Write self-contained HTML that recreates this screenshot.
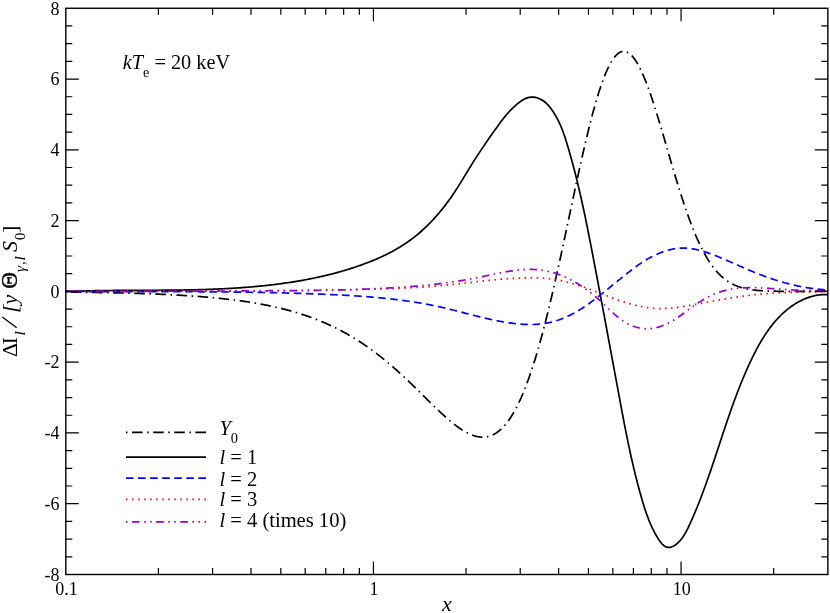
<!DOCTYPE html><html><head><meta charset="utf-8"><title>plot</title><style>

html,body{margin:0;padding:0;background:#fff;}
body{width:830px;height:613px;position:relative;overflow:hidden;font-family:"Liberation Serif",serif;color:#000;font-kerning:none;}
svg text{font-family:"Liberation Serif",serif;fill:#000;font-kerning:none;}
.i{font-style:italic;}

</style></head><body>
<svg width="830" height="613" viewBox="0 0 830 613" style="position:absolute;left:0;top:0">
<rect x="0" y="0" width="830" height="613" fill="#fff"/>
<clipPath id="cp"><rect x="65.8" y="8.25" width="762.0500000000001" height="566.25"/></clipPath>
<g clip-path="url(#cp)" fill="none" stroke-linejoin="round">
<path d="M65.80,292.08 L66.75,292.09 L67.71,292.10 L68.66,292.11 L69.61,292.12 L70.56,292.13 L71.52,292.14 L72.47,292.16 L73.42,292.17 L74.37,292.18 L75.33,292.19 L76.28,292.20 L77.23,292.21 L78.18,292.23 L79.14,292.24 L80.09,292.25 L81.04,292.26 L81.99,292.28 L82.95,292.29 L83.90,292.30 L84.85,292.31 L85.80,292.33 L86.76,292.34 L87.71,292.36 L88.66,292.37 L89.61,292.38 L90.57,292.40 L91.52,292.41 L92.47,292.43 L93.42,292.44 L94.38,292.46 L95.33,292.47 L96.28,292.49 L97.23,292.51 L98.19,292.52 L99.14,292.54 L100.09,292.55 L101.04,292.57 L102.00,292.59 L102.95,292.61 L103.90,292.62 L104.86,292.64 L105.81,292.66 L106.76,292.68 L107.71,292.70 L108.67,292.72 L109.62,292.73 L110.57,292.75 L111.52,292.77 L112.48,292.79 L113.43,292.81 L114.38,292.83 L115.33,292.86 L116.29,292.88 L117.24,292.90 L118.19,292.92 L119.14,292.94 L120.10,292.96 L121.05,292.99 L122.00,293.01 L122.95,293.03 L123.91,293.06 L124.86,293.08 L125.81,293.11 L126.76,293.13 L127.72,293.16 L128.67,293.18 L129.62,293.21 L130.57,293.23 L131.53,293.26 L132.48,293.29 L133.43,293.31 L134.38,293.34 L135.34,293.37 L136.29,293.40 L137.24,293.43 L138.19,293.46 L139.15,293.49 L140.10,293.52 L141.05,293.55 L142.01,293.58 L142.96,293.61 L143.91,293.64 L144.86,293.67 L145.82,293.71 L146.77,293.74 L147.72,293.77 L148.67,293.81 L149.63,293.84 L150.58,293.88 L151.53,293.91 L152.48,293.95 L153.44,293.99 L154.39,294.02 L155.34,294.06 L156.29,294.10 L157.25,294.14 L158.20,294.18 L159.15,294.22 L160.10,294.26 L161.06,294.30 L162.01,294.34 L162.96,294.38 L163.91,294.43 L164.87,294.47 L165.82,294.51 L166.77,294.56 L167.72,294.61 L168.68,294.65 L169.63,294.70 L170.58,294.75 L171.53,294.79 L172.49,294.84 L173.44,294.89 L174.39,294.94 L175.34,294.99 L176.30,295.04 L177.25,295.10 L178.20,295.15 L179.15,295.20 L180.11,295.26 L181.06,295.31 L182.01,295.37 L182.97,295.42 L183.92,295.48 L184.87,295.54 L185.82,295.60 L186.78,295.66 L187.73,295.72 L188.68,295.78 L189.63,295.85 L190.59,295.91 L191.54,295.97 L192.49,296.04 L193.44,296.10 L194.40,296.17 L195.35,296.24 L196.30,296.31 L197.25,296.38 L198.21,296.45 L199.16,296.52 L200.11,296.60 L201.06,296.67 L202.02,296.74 L202.97,296.82 L203.92,296.90 L204.87,296.98 L205.83,297.06 L206.78,297.14 L207.73,297.22 L208.68,297.30 L209.64,297.38 L210.59,297.47 L211.54,297.56 L212.49,297.64 L213.45,297.73 L214.40,297.82 L215.35,297.91 L216.30,298.00 L217.26,298.10 L218.21,298.19 L219.16,298.29 L220.12,298.39 L221.07,298.49 L222.02,298.59 L222.97,298.69 L223.93,298.79 L224.88,298.90 L225.83,299.00 L226.78,299.11 L227.74,299.22 L228.69,299.33 L229.64,299.44 L230.59,299.55 L231.55,299.67 L232.50,299.79 L233.45,299.90 L234.40,300.02 L235.36,300.15 L236.31,300.27 L237.26,300.39 L238.21,300.52 L239.17,300.65 L240.12,300.78 L241.07,300.91 L242.02,301.05 L242.98,301.18 L243.93,301.32 L244.88,301.46 L245.83,301.60 L246.79,301.74 L247.74,301.89 L248.69,302.03 L249.64,302.18 L250.60,302.33 L251.55,302.49 L252.50,302.64 L253.45,302.80 L254.41,302.96 L255.36,303.12 L256.31,303.29 L257.27,303.45 L258.22,303.62 L259.17,303.79 L260.12,303.96 L261.08,304.14 L262.03,304.32 L262.98,304.50 L263.93,304.68 L264.89,304.86 L265.84,305.05 L266.79,305.24 L267.74,305.43 L268.70,305.63 L269.65,305.82 L270.60,306.02 L271.55,306.23 L272.51,306.43 L273.46,306.64 L274.41,306.85 L275.36,307.07 L276.32,307.28 L277.27,307.50 L278.22,307.72 L279.17,307.95 L280.13,308.18 L281.08,308.41 L282.03,308.64 L282.98,308.88 L283.94,309.12 L284.89,309.36 L285.84,309.61 L286.79,309.86 L287.75,310.11 L288.70,310.37 L289.65,310.63 L290.60,310.89 L291.56,311.16 L292.51,311.43 L293.46,311.70 L294.42,311.98 L295.37,312.26 L296.32,312.54 L297.27,312.83 L298.23,313.12 L299.18,313.42 L300.13,313.72 L301.08,314.02 L302.04,314.33 L302.99,314.64 L303.94,314.95 L304.89,315.27 L305.85,315.59 L306.80,315.92 L307.75,316.25 L308.70,316.58 L309.66,316.92 L310.61,317.26 L311.56,317.61 L312.51,317.96 L313.47,318.32 L314.42,318.68 L315.37,319.04 L316.32,319.41 L317.28,319.79 L318.23,320.16 L319.18,320.55 L320.13,320.93 L321.09,321.33 L322.04,321.72 L322.99,322.12 L323.94,322.53 L324.90,322.94 L325.85,323.36 L326.80,323.78 L327.75,324.20 L328.71,324.63 L329.66,325.07 L330.61,325.51 L331.56,325.96 L332.52,326.41 L333.47,326.87 L334.42,327.33 L335.38,327.79 L336.33,328.27 L337.28,328.74 L338.23,329.23 L339.19,329.72 L340.14,330.21 L341.09,330.71 L342.04,331.22 L343.00,331.73 L343.95,332.24 L344.90,332.77 L345.85,333.30 L346.81,333.83 L347.76,334.37 L348.71,334.91 L349.66,335.47 L350.62,336.02 L351.57,336.59 L352.52,337.16 L353.47,337.73 L354.43,338.31 L355.38,338.90 L356.33,339.49 L357.28,340.09 L358.24,340.70 L359.19,341.31 L360.14,341.93 L361.09,342.55 L362.05,343.18 L363.00,343.82 L363.95,344.46 L364.90,345.11 L365.86,345.76 L366.81,346.43 L367.76,347.09 L368.71,347.77 L369.67,348.45 L370.62,349.13 L371.57,349.83 L372.53,350.53 L373.48,351.23 L374.43,351.94 L375.38,352.66 L376.34,353.38 L377.29,354.11 L378.24,354.85 L379.19,355.59 L380.15,356.34 L381.10,357.10 L382.05,357.86 L383.00,358.63 L383.96,359.40 L384.91,360.18 L385.86,360.97 L386.81,361.76 L387.77,362.55 L388.72,363.36 L389.67,364.17 L390.62,364.98 L391.58,365.80 L392.53,366.63 L393.48,367.46 L394.43,368.30 L395.39,369.14 L396.34,369.99 L397.29,370.84 L398.24,371.70 L399.20,372.56 L400.15,373.43 L401.10,374.30 L402.05,375.18 L403.01,376.06 L403.96,376.95 L404.91,377.84 L405.86,378.73 L406.82,379.63 L407.77,380.53 L408.72,381.44 L409.68,382.35 L410.63,383.26 L411.58,384.18 L412.53,385.10 L413.49,386.02 L414.44,386.95 L415.39,387.88 L416.34,388.81 L417.30,389.74 L418.25,390.67 L419.20,391.61 L420.15,392.55 L421.11,393.49 L422.06,394.42 L423.01,395.36 L423.96,396.30 L424.92,397.24 L425.87,398.18 L426.82,399.12 L427.77,400.06 L428.73,401.00 L429.68,401.93 L430.63,402.87 L431.58,403.80 L432.54,404.73 L433.49,405.66 L434.44,406.58 L435.39,407.50 L436.35,408.41 L437.30,409.32 L438.25,410.23 L439.20,411.13 L440.16,412.03 L441.11,412.91 L442.06,413.80 L443.01,414.67 L443.97,415.54 L444.92,416.40 L445.87,417.25 L446.83,418.09 L447.78,418.92 L448.73,419.74 L449.68,420.55 L450.64,421.35 L451.59,422.14 L452.54,422.92 L453.49,423.68 L454.45,424.43 L455.40,425.16 L456.35,425.88 L457.30,426.58 L458.26,427.27 L459.21,427.94 L460.16,428.60 L461.11,429.23 L462.07,429.85 L463.02,430.45 L463.97,431.02 L464.92,431.58 L465.88,432.11 L466.83,432.62 L467.78,433.11 L468.73,433.57 L469.69,434.01 L470.64,434.43 L471.59,434.81 L472.54,435.17 L473.50,435.51 L474.45,435.81 L475.40,436.08 L476.35,436.33 L477.31,436.54 L478.26,436.72 L479.21,436.86 L480.16,436.98 L481.12,437.05 L482.07,437.10 L483.02,437.10 L483.97,437.07 L484.93,437.00 L485.88,436.89 L486.83,436.74 L487.79,436.55 L488.74,436.32 L489.69,436.04 L490.64,435.73 L491.60,435.36 L492.55,434.96 L493.50,434.50 L494.45,434.00 L495.41,433.45 L496.36,432.86 L497.31,432.21 L498.26,431.51 L499.22,430.76 L500.17,429.96 L501.12,429.11 L502.07,428.20 L503.03,427.24 L503.98,426.22 L504.93,425.15 L505.88,424.02 L506.84,422.83 L507.79,421.59 L508.74,420.28 L509.69,418.92 L510.65,417.50 L511.60,416.01 L512.55,414.47 L513.50,412.86 L514.46,411.19 L515.41,409.46 L516.36,407.66 L517.31,405.81 L518.27,403.88 L519.22,401.90 L520.17,399.84 L521.12,397.73 L522.08,395.55 L523.03,393.30 L523.98,390.99 L524.94,388.61 L525.89,386.17 L526.84,383.66 L527.79,381.08 L528.75,378.44 L529.70,375.74 L530.65,372.96 L531.60,370.13 L532.56,367.23 L533.51,364.26 L534.46,361.24 L535.41,358.14 L536.37,354.99 L537.32,351.77 L538.27,348.50 L539.22,345.16 L540.18,341.76 L541.13,338.30 L542.08,334.79 L543.03,331.21 L543.99,327.59 L544.94,323.90 L545.89,320.17 L546.84,316.38 L547.80,312.54 L548.75,308.65 L549.70,304.71 L550.65,300.72 L551.61,296.69 L552.56,292.62 L553.51,288.50 L554.46,284.35 L555.42,280.16 L556.37,275.93 L557.32,271.67 L558.27,267.37 L559.23,263.05 L560.18,258.70 L561.13,254.33 L562.09,249.93 L563.04,245.51 L563.99,241.08 L564.94,236.63 L565.90,232.16 L566.85,227.69 L567.80,223.21 L568.75,218.73 L569.71,214.24 L570.66,209.76 L571.61,205.28 L572.56,200.81 L573.52,196.34 L574.47,191.90 L575.42,187.46 L576.37,183.05 L577.33,178.66 L578.28,174.29 L579.23,169.96 L580.18,165.65 L581.14,161.38 L582.09,157.15 L583.04,152.96 L583.99,148.82 L584.95,144.72 L585.90,140.67 L586.85,136.68 L587.80,132.75 L588.76,128.87 L589.71,125.06 L590.66,121.32 L591.61,117.64 L592.57,114.04 L593.52,110.52 L594.47,107.07 L595.42,103.70 L596.38,100.42 L597.33,97.22 L598.28,94.12 L599.24,91.10 L600.19,88.18 L601.14,85.36 L602.09,82.64 L603.05,80.02 L604.00,77.50 L604.95,75.09 L605.90,72.79 L606.86,70.59 L607.81,68.51 L608.76,66.54 L609.71,64.69 L610.67,62.95 L611.62,61.33 L612.57,59.83 L613.52,58.45 L614.48,57.19 L615.43,56.05 L616.38,55.03 L617.33,54.14 L618.29,53.37 L619.24,52.72 L620.19,52.20 L621.14,51.80 L622.10,51.53 L623.05,51.38 L624.00,51.35 L624.95,51.44 L625.91,51.66 L626.86,51.99 L627.81,52.45 L628.76,53.03 L629.72,53.72 L630.67,54.53 L631.62,55.45 L632.57,56.49 L633.53,57.64 L634.48,58.90 L635.43,60.27 L636.38,61.74 L637.34,63.32 L638.29,64.99 L639.24,66.77 L640.20,68.64 L641.15,70.60 L642.10,72.66 L643.05,74.80 L644.01,77.03 L644.96,79.34 L645.91,81.73 L646.86,84.20 L647.82,86.74 L648.77,89.35 L649.72,92.02 L650.67,94.76 L651.63,97.56 L652.58,100.41 L653.53,103.31 L654.48,106.27 L655.44,109.27 L656.39,112.31 L657.34,115.39 L658.29,118.51 L659.25,121.66 L660.20,124.83 L661.15,128.03 L662.10,131.25 L663.06,134.49 L664.01,137.75 L664.96,141.01 L665.91,144.28 L666.87,147.56 L667.82,150.84 L668.77,154.11 L669.72,157.39 L670.68,160.65 L671.63,163.90 L672.58,167.14 L673.53,170.36 L674.49,173.56 L675.44,176.74 L676.39,179.89 L677.35,183.02 L678.30,186.12 L679.25,189.18 L680.20,192.22 L681.16,195.21 L682.11,198.17 L683.06,201.09 L684.01,203.97 L684.97,206.80 L685.92,209.59 L686.87,212.33 L687.82,215.03 L688.78,217.67 L689.73,220.27 L690.68,222.81 L691.63,225.31 L692.59,227.75 L693.54,230.13 L694.49,232.47 L695.44,234.75 L696.40,236.97 L697.35,239.14 L698.30,241.25 L699.25,243.31 L700.21,245.31 L701.16,247.26 L702.11,249.15 L703.06,250.98 L704.02,252.76 L704.97,254.49 L705.92,256.16 L706.87,257.78 L707.83,259.34 L708.78,260.85 L709.73,262.31 L710.68,263.72 L711.64,265.07 L712.59,266.38 L713.54,267.64 L714.50,268.85 L715.45,270.01 L716.40,271.13 L717.35,272.20 L718.31,273.23 L719.26,274.22 L720.21,275.16 L721.16,276.06 L722.12,276.92 L723.07,277.75 L724.02,278.53 L724.97,279.28 L725.93,280.00 L726.88,280.68 L727.83,281.32 L728.78,281.94 L729.74,282.52 L730.69,283.08 L731.64,283.60 L732.59,284.10 L733.55,284.57 L734.50,285.02 L735.45,285.44 L736.40,285.83 L737.36,286.21 L738.31,286.56 L739.26,286.90 L740.21,287.21 L741.17,287.50 L742.12,287.78 L743.07,288.04 L744.02,288.28 L744.98,288.51 L745.93,288.72 L746.88,288.92 L747.83,289.11 L748.79,289.28 L749.74,289.45 L750.69,289.60 L751.65,289.74 L752.60,289.87 L753.55,289.99 L754.50,290.11 L755.46,290.21 L756.41,290.31 L757.36,290.40 L758.31,290.48 L759.27,290.56 L760.22,290.63 L761.17,290.69 L762.12,290.75 L763.08,290.81 L764.03,290.86 L764.98,290.91 L765.93,290.95 L766.89,290.99 L767.84,291.03 L768.79,291.06 L769.74,291.09 L770.70,291.12 L771.65,291.14 L772.60,291.16 L773.55,291.19 L774.51,291.20 L775.46,291.22 L776.41,291.24 L777.36,291.25 L778.32,291.26 L779.27,291.28 L780.22,291.29 L781.17,291.30 L782.13,291.30 L783.08,291.31 L784.03,291.32 L784.98,291.33 L785.94,291.33 L786.89,291.34 L787.84,291.34 L788.79,291.34 L789.75,291.35 L790.70,291.35 L791.65,291.35 L792.61,291.36 L793.56,291.36 L794.51,291.36 L795.46,291.36 L796.42,291.36 L797.37,291.37 L798.32,291.37 L799.27,291.37 L800.23,291.37 L801.18,291.37 L802.13,291.37 L803.08,291.37 L804.04,291.37 L804.99,291.37 L805.94,291.37 L806.89,291.37 L807.85,291.37 L808.80,291.37 L809.75,291.37 L810.70,291.37 L811.66,291.37 L812.61,291.37 L813.56,291.37 L814.51,291.37 L815.47,291.37 L816.42,291.37 L817.37,291.37 L818.32,291.37 L819.28,291.37 L820.23,291.37 L821.18,291.37 L822.13,291.37 L823.09,291.37 L824.04,291.37 L824.99,291.37 L825.94,291.37 L826.90,291.37 L827.85,291.37" stroke="#000" stroke-width="1.7" stroke-dasharray="1.509,4.527,10.563,4.527" stroke-dashoffset="0.91"/>
<path d="M65.80,291.57 L66.95,291.50 L68.45,291.44 L69.95,291.39 L71.46,291.33 L72.96,291.28 L74.46,291.23 L75.96,291.18 L77.46,291.13 L78.96,291.09 L80.46,291.04 L81.96,291.00 L83.46,290.96 L84.96,290.92 L86.46,290.89 L87.96,290.85 L89.46,290.82 L90.96,290.79 L92.45,290.76 L93.95,290.73 L95.45,290.70 L96.95,290.68 L98.44,290.65 L99.94,290.63 L101.44,290.61 L102.93,290.58 L104.43,290.56 L105.92,290.55 L107.42,290.53 L108.91,290.51 L110.41,290.50 L111.90,290.48 L113.40,290.47 L114.89,290.46 L116.38,290.44 L117.88,290.43 L119.37,290.42 L120.86,290.41 L122.36,290.40 L123.85,290.39 L125.34,290.38 L126.84,290.38 L128.33,290.37 L129.82,290.36 L131.31,290.36 L132.80,290.35 L134.29,290.34 L135.78,290.34 L137.28,290.33 L138.77,290.33 L140.26,290.32 L141.75,290.31 L143.24,290.31 L144.73,290.30 L146.22,290.30 L147.71,290.29 L149.20,290.29 L150.69,290.28 L152.18,290.27 L153.67,290.27 L155.16,290.26 L156.64,290.25 L158.13,290.24 L159.62,290.23 L161.11,290.23 L162.60,290.22 L164.09,290.21 L165.58,290.19 L167.06,290.18 L168.55,290.17 L170.04,290.16 L171.53,290.14 L173.01,290.13 L174.50,290.11 L175.99,290.09 L177.48,290.08 L178.96,290.06 L180.45,290.04 L181.94,290.02 L183.43,289.99 L184.91,289.97 L186.40,289.94 L187.89,289.92 L189.37,289.89 L190.86,289.86 L192.35,289.83 L193.83,289.80 L195.32,289.76 L196.81,289.73 L198.29,289.69 L199.78,289.65 L201.27,289.61 L202.75,289.57 L204.24,289.52 L205.73,289.48 L207.21,289.43 L208.70,289.38 L210.19,289.33 L211.67,289.27 L213.16,289.22 L214.64,289.16 L216.13,289.10 L217.62,289.04 L219.10,288.97 L220.59,288.90 L222.08,288.83 L223.56,288.76 L225.05,288.69 L226.54,288.61 L228.02,288.53 L229.51,288.45 L231.00,288.36 L232.48,288.27 L233.97,288.18 L235.46,288.09 L236.94,287.99 L238.43,287.90 L239.92,287.79 L241.40,287.69 L242.89,287.58 L244.38,287.47 L245.86,287.36 L247.35,287.24 L248.84,287.12 L250.33,287.00 L251.81,286.87 L253.30,286.74 L254.79,286.61 L256.28,286.47 L257.76,286.33 L259.25,286.19 L260.74,286.04 L262.23,285.89 L263.72,285.74 L265.21,285.58 L266.69,285.42 L268.18,285.25 L269.67,285.08 L271.16,284.91 L272.65,284.73 L274.14,284.55 L275.63,284.37 L277.12,284.18 L278.61,283.98 L280.10,283.79 L281.59,283.59 L283.07,283.38 L284.56,283.17 L286.05,282.96 L287.54,282.74 L289.03,282.52 L290.52,282.29 L292.01,282.06 L293.50,281.82 L294.98,281.58 L296.47,281.34 L297.95,281.09 L299.44,280.83 L300.92,280.57 L302.41,280.31 L303.89,280.04 L305.37,279.77 L306.85,279.49 L308.33,279.21 L309.81,278.92 L311.29,278.62 L312.76,278.32 L314.24,278.02 L315.71,277.71 L317.18,277.40 L318.65,277.08 L320.12,276.75 L321.59,276.42 L323.05,276.09 L324.52,275.75 L325.98,275.40 L327.44,275.05 L328.90,274.69 L330.35,274.33 L331.81,273.96 L333.26,273.59 L334.71,273.21 L336.15,272.82 L337.60,272.43 L339.04,272.03 L340.48,271.63 L341.92,271.22 L343.35,270.80 L344.79,270.38 L346.22,269.95 L347.64,269.52 L349.07,269.08 L350.49,268.63 L351.91,268.18 L353.32,267.72 L354.73,267.25 L356.14,266.78 L357.55,266.30 L358.95,265.82 L360.35,265.33 L361.75,264.83 L363.14,264.32 L364.53,263.81 L365.92,263.29 L367.30,262.77 L368.68,262.24 L370.05,261.70 L371.42,261.15 L372.79,260.59 L374.15,260.03 L375.51,259.46 L376.86,258.88 L378.21,258.29 L379.55,257.69 L380.89,257.08 L382.23,256.47 L383.56,255.84 L384.88,255.21 L386.20,254.56 L387.52,253.91 L388.83,253.24 L390.13,252.57 L391.43,251.88 L392.73,251.18 L394.01,250.48 L395.30,249.76 L396.57,249.03 L397.84,248.28 L399.11,247.53 L400.36,246.77 L401.62,245.99 L402.86,245.20 L404.10,244.40 L405.33,243.58 L406.56,242.75 L407.78,241.91 L408.99,241.06 L410.20,240.19 L411.40,239.31 L412.59,238.42 L413.77,237.51 L414.95,236.58 L416.12,235.65 L417.28,234.69 L418.44,233.73 L419.58,232.75 L420.72,231.76 L421.85,230.75 L422.98,229.73 L424.09,228.70 L425.20,227.66 L426.30,226.61 L427.39,225.55 L428.47,224.47 L429.54,223.39 L430.61,222.29 L431.67,221.19 L432.71,220.08 L433.75,218.95 L434.78,217.82 L435.80,216.69 L436.81,215.54 L437.81,214.39 L438.80,213.22 L439.79,212.06 L440.76,210.88 L441.72,209.70 L442.68,208.52 L443.62,207.33 L444.55,206.13 L445.48,204.93 L446.39,203.73 L447.29,202.52 L448.18,201.31 L449.07,200.10 L449.94,198.88 L450.80,197.67 L451.65,196.44 L452.49,195.22 L453.32,194.00 L454.14,192.77 L454.96,191.54 L455.76,190.31 L456.56,189.08 L457.35,187.85 L458.14,186.61 L458.92,185.37 L459.70,184.14 L460.47,182.90 L461.24,181.66 L462.01,180.41 L462.77,179.17 L463.53,177.92 L464.29,176.68 L465.05,175.43 L465.81,174.18 L466.57,172.94 L467.33,171.69 L468.09,170.44 L468.85,169.18 L469.61,167.93 L470.38,166.68 L471.15,165.43 L471.93,164.17 L472.71,162.92 L473.50,161.67 L474.29,160.41 L475.08,159.16 L475.89,157.90 L476.70,156.65 L477.52,155.39 L478.34,154.14 L479.17,152.88 L480.01,151.63 L480.85,150.37 L481.69,149.12 L482.54,147.86 L483.39,146.61 L484.25,145.36 L485.11,144.10 L485.97,142.85 L486.83,141.60 L487.70,140.35 L488.56,139.10 L489.43,137.85 L490.30,136.60 L491.17,135.35 L492.04,134.11 L492.91,132.86 L493.78,131.62 L494.65,130.38 L495.52,129.14 L496.40,127.90 L497.27,126.67 L498.16,125.45 L499.04,124.23 L499.93,123.02 L500.83,121.81 L501.73,120.62 L502.65,119.43 L503.57,118.26 L504.50,117.10 L505.44,115.95 L506.40,114.81 L507.37,113.69 L508.35,112.58 L509.34,111.49 L510.36,110.41 L511.38,109.35 L512.43,108.31 L513.49,107.29 L514.57,106.29 L515.67,105.31 L516.80,104.35 L517.94,103.41 L519.11,102.50 L520.30,101.62 L521.51,100.78 L522.75,99.99 L524.01,99.27 L525.31,98.63 L526.63,98.08 L527.98,97.63 L529.35,97.31 L530.76,97.11 L532.20,97.05 L533.67,97.14 L535.14,97.36 L536.62,97.70 L538.08,98.17 L539.53,98.74 L540.93,99.42 L542.29,100.19 L543.58,101.05 L544.81,101.98 L545.98,102.98 L547.10,104.04 L548.16,105.16 L549.17,106.32 L550.15,107.51 L551.08,108.74 L551.98,109.98 L552.85,111.23 L553.68,112.50 L554.49,113.78 L555.27,115.07 L556.03,116.37 L556.76,117.69 L557.46,119.01 L558.14,120.34 L558.80,121.68 L559.43,123.03 L560.05,124.39 L560.64,125.75 L561.22,127.12 L561.78,128.50 L562.32,129.89 L562.85,131.28 L563.36,132.67 L563.86,134.07 L564.35,135.48 L564.82,136.89 L565.29,138.30 L565.74,139.72 L566.19,141.14 L566.63,142.57 L567.07,143.99 L567.50,145.42 L567.92,146.84 L568.34,148.27 L568.76,149.70 L569.18,151.13 L569.59,152.56 L570.00,153.99 L570.40,155.43 L570.80,156.86 L571.20,158.29 L571.60,159.73 L571.99,161.16 L572.38,162.60 L572.77,164.04 L573.15,165.48 L573.53,166.91 L573.91,168.35 L574.28,169.79 L574.66,171.24 L575.03,172.68 L575.39,174.12 L575.76,175.56 L576.12,177.01 L576.48,178.45 L576.83,179.90 L577.19,181.34 L577.54,182.79 L577.89,184.23 L578.23,185.68 L578.58,187.13 L578.92,188.58 L579.26,190.03 L579.60,191.48 L579.93,192.93 L580.27,194.38 L580.60,195.83 L580.93,197.28 L581.25,198.74 L581.58,200.19 L581.90,201.64 L582.22,203.10 L582.54,204.55 L582.86,206.01 L583.17,207.47 L583.49,208.92 L583.80,210.38 L584.11,211.84 L584.42,213.29 L584.73,214.75 L585.03,216.21 L585.34,217.67 L585.64,219.13 L585.94,220.59 L586.24,222.05 L586.54,223.51 L586.84,224.97 L587.14,226.43 L587.43,227.89 L587.73,229.36 L588.02,230.82 L588.31,232.28 L588.60,233.75 L588.89,235.21 L589.18,236.67 L589.47,238.14 L589.76,239.60 L590.05,241.07 L590.33,242.53 L590.62,244.00 L590.90,245.46 L591.19,246.93 L591.47,248.39 L591.75,249.86 L592.03,251.33 L592.32,252.79 L592.60,254.26 L592.88,255.73 L593.16,257.19 L593.44,258.66 L593.72,260.13 L594.00,261.60 L594.28,263.06 L594.56,264.53 L594.84,266.00 L595.12,267.47 L595.39,268.94 L595.67,270.41 L595.95,271.88 L596.23,273.34 L596.51,274.81 L596.79,276.28 L597.06,277.75 L597.34,279.22 L597.62,280.69 L597.90,282.16 L598.17,283.63 L598.45,285.10 L598.73,286.57 L599.01,288.04 L599.28,289.51 L599.56,290.98 L599.84,292.45 L600.11,293.92 L600.39,295.39 L600.66,296.86 L600.94,298.33 L601.22,299.80 L601.49,301.27 L601.77,302.74 L602.04,304.21 L602.32,305.68 L602.59,307.15 L602.87,308.62 L603.14,310.09 L603.42,311.56 L603.69,313.03 L603.97,314.50 L604.24,315.97 L604.52,317.45 L604.79,318.92 L605.07,320.39 L605.34,321.86 L605.61,323.33 L605.89,324.80 L606.16,326.27 L606.44,327.74 L606.71,329.21 L606.98,330.68 L607.26,332.15 L607.53,333.62 L607.80,335.09 L608.08,336.56 L608.35,338.03 L608.62,339.50 L608.90,340.97 L609.17,342.44 L609.44,343.91 L609.72,345.38 L609.99,346.85 L610.26,348.32 L610.53,349.79 L610.81,351.26 L611.08,352.73 L611.35,354.20 L611.63,355.67 L611.90,357.14 L612.17,358.61 L612.44,360.08 L612.72,361.55 L612.99,363.02 L613.26,364.48 L613.53,365.95 L613.80,367.42 L614.08,368.89 L614.35,370.36 L614.62,371.83 L614.89,373.29 L615.17,374.76 L615.44,376.23 L615.71,377.70 L615.98,379.16 L616.25,380.63 L616.53,382.10 L616.80,383.57 L617.07,385.03 L617.34,386.50 L617.61,387.96 L617.89,389.43 L618.16,390.90 L618.43,392.36 L618.70,393.83 L618.97,395.29 L619.25,396.76 L619.52,398.22 L619.79,399.69 L620.06,401.15 L620.34,402.62 L620.61,404.08 L620.88,405.54 L621.15,407.01 L621.43,408.47 L621.70,409.93 L621.98,411.40 L622.25,412.86 L622.53,414.32 L622.81,415.78 L623.09,417.25 L623.36,418.71 L623.64,420.17 L623.93,421.63 L624.21,423.09 L624.49,424.55 L624.77,426.01 L625.06,427.47 L625.35,428.93 L625.63,430.39 L625.92,431.85 L626.21,433.31 L626.51,434.77 L626.80,436.22 L627.09,437.68 L627.39,439.14 L627.69,440.60 L627.99,442.05 L628.29,443.51 L628.60,444.97 L628.90,446.42 L629.21,447.88 L629.52,449.33 L629.84,450.79 L630.15,452.24 L630.47,453.70 L630.79,455.15 L631.11,456.60 L631.43,458.06 L631.76,459.51 L632.09,460.96 L632.42,462.41 L632.75,463.87 L633.09,465.32 L633.43,466.77 L633.77,468.22 L634.12,469.67 L634.47,471.12 L634.82,472.57 L635.17,474.02 L635.53,475.46 L635.89,476.91 L636.26,478.36 L636.63,479.81 L637.00,481.25 L637.37,482.70 L637.75,484.15 L638.13,485.59 L638.52,487.04 L638.90,488.48 L639.30,489.92 L639.69,491.37 L640.09,492.81 L640.50,494.25 L640.90,495.70 L641.32,497.14 L641.73,498.58 L642.15,500.02 L642.58,501.46 L643.01,502.90 L643.44,504.34 L643.89,505.77 L644.33,507.21 L644.79,508.64 L645.26,510.07 L645.73,511.49 L646.22,512.92 L646.72,514.34 L647.23,515.75 L647.75,517.16 L648.28,518.57 L648.83,519.97 L649.39,521.37 L649.97,522.76 L650.56,524.15 L651.17,525.53 L651.80,526.90 L652.44,528.27 L653.11,529.62 L653.79,530.98 L654.49,532.32 L655.21,533.65 L655.96,534.98 L656.73,536.30 L657.52,537.61 L658.33,538.91 L659.17,540.19 L660.04,541.44 L660.94,542.63 L661.88,543.74 L662.86,544.75 L663.89,545.63 L664.97,546.36 L666.10,546.92 L667.30,547.29 L668.56,547.43 L669.87,547.35 L671.23,547.05 L672.59,546.55 L673.93,545.89 L675.22,545.09 L676.45,544.16 L677.62,543.13 L678.73,542.03 L679.79,540.87 L680.80,539.68 L681.75,538.47 L682.66,537.23 L683.52,535.97 L684.34,534.69 L685.12,533.40 L685.87,532.09 L686.60,530.76 L687.29,529.42 L687.97,528.08 L688.62,526.72 L689.26,525.36 L689.89,523.99 L690.51,522.62 L691.13,521.25 L691.74,519.88 L692.34,518.51 L692.94,517.13 L693.54,515.75 L694.13,514.38 L694.71,513.00 L695.29,511.62 L695.87,510.24 L696.44,508.85 L697.00,507.47 L697.57,506.08 L698.12,504.70 L698.68,503.31 L699.23,501.92 L699.77,500.53 L700.31,499.14 L700.85,497.74 L701.38,496.35 L701.91,494.96 L702.44,493.56 L702.96,492.16 L703.48,490.77 L704.00,489.37 L704.51,487.97 L705.02,486.57 L705.53,485.17 L706.03,483.77 L706.53,482.37 L707.03,480.96 L707.53,479.56 L708.02,478.15 L708.51,476.75 L709.00,475.34 L709.49,473.94 L709.97,472.53 L710.46,471.12 L710.94,469.72 L711.42,468.31 L711.90,466.90 L712.37,465.49 L712.85,464.08 L713.32,462.67 L713.79,461.26 L714.26,459.85 L714.73,458.44 L715.20,457.02 L715.67,455.61 L716.14,454.20 L716.61,452.79 L717.07,451.38 L717.54,449.96 L718.00,448.55 L718.47,447.14 L718.93,445.73 L719.40,444.31 L719.86,442.90 L720.33,441.49 L720.79,440.08 L721.26,438.66 L721.73,437.25 L722.19,435.84 L722.66,434.43 L723.13,433.01 L723.60,431.60 L724.07,430.19 L724.54,428.78 L725.01,427.37 L725.49,425.96 L725.96,424.55 L726.44,423.14 L726.91,421.73 L727.39,420.32 L727.88,418.91 L728.36,417.50 L728.84,416.09 L729.33,414.69 L729.82,413.28 L730.31,411.87 L730.80,410.47 L731.30,409.06 L731.80,407.66 L732.30,406.25 L732.80,404.85 L733.31,403.45 L733.82,402.05 L734.33,400.65 L734.85,399.25 L735.37,397.85 L735.89,396.45 L736.42,395.05 L736.95,393.66 L737.48,392.26 L738.02,390.87 L738.56,389.48 L739.10,388.08 L739.65,386.69 L740.21,385.30 L740.76,383.91 L741.32,382.53 L741.89,381.14 L742.46,379.75 L743.04,378.37 L743.62,376.99 L744.20,375.61 L744.79,374.23 L745.38,372.85 L745.98,371.47 L746.59,370.09 L747.20,368.72 L747.81,367.34 L748.44,365.97 L749.06,364.60 L749.69,363.23 L750.33,361.87 L750.98,360.50 L751.63,359.14 L752.29,357.78 L752.95,356.42 L753.62,355.06 L754.30,353.71 L754.98,352.36 L755.68,351.02 L756.38,349.68 L757.09,348.35 L757.81,347.02 L758.53,345.70 L759.27,344.38 L760.01,343.08 L760.77,341.78 L761.53,340.48 L762.31,339.20 L763.10,337.92 L763.89,336.65 L764.70,335.39 L765.52,334.14 L766.35,332.90 L767.19,331.67 L768.04,330.45 L768.91,329.25 L769.79,328.05 L770.68,326.87 L771.58,325.70 L772.50,324.54 L773.43,323.39 L774.37,322.26 L775.33,321.14 L776.30,320.04 L777.29,318.95 L778.29,317.87 L779.31,316.81 L780.34,315.77 L781.39,314.74 L782.46,313.73 L783.54,312.74 L784.63,311.77 L785.75,310.81 L786.88,309.87 L788.02,308.95 L789.19,308.05 L790.37,307.17 L791.57,306.30 L792.79,305.46 L794.03,304.64 L795.29,303.84 L796.56,303.07 L797.85,302.32 L799.16,301.59 L800.48,300.89 L801.82,300.22 L803.17,299.59 L804.54,298.98 L805.93,298.41 L807.33,297.87 L808.74,297.37 L810.16,296.90 L811.60,296.48 L813.05,296.09 L814.51,295.75 L815.98,295.45 L817.46,295.20 L818.95,294.99 L820.45,294.83 L821.96,294.72 L823.48,294.66 L825.01,294.65 L826.54,294.70 L827.85,294.79" stroke="#000" stroke-width="1.7"/>
<path d="M65.80,291.39 L66.48,291.40 L67.35,291.40 L68.23,291.41 L69.10,291.42 L69.98,291.42 L70.85,291.43 L71.73,291.44 L72.60,291.44 L73.48,291.45 L74.35,291.46 L75.23,291.46 L76.11,291.47 L76.98,291.47 L77.86,291.48 L78.74,291.49 L79.61,291.49 L80.49,291.50 L81.37,291.50 L82.24,291.51 L83.12,291.51 L84.00,291.52 L84.87,291.52 L85.75,291.53 L86.63,291.53 L87.51,291.53 L88.38,291.54 L89.26,291.54 L90.14,291.55 L91.02,291.55 L91.90,291.56 L92.78,291.56 L93.65,291.56 L94.53,291.57 L95.41,291.57 L96.29,291.57 L97.17,291.58 L98.05,291.58 L98.93,291.58 L99.81,291.58 L100.69,291.59 L101.57,291.59 L102.45,291.59 L103.32,291.60 L104.20,291.60 L105.08,291.60 L105.96,291.60 L106.84,291.61 L107.72,291.61 L108.60,291.61 L109.49,291.61 L110.37,291.61 L111.25,291.62 L112.13,291.62 L113.01,291.62 L113.89,291.62 L114.77,291.62 L115.65,291.62 L116.53,291.63 L117.41,291.63 L118.29,291.63 L119.18,291.63 L120.06,291.63 L120.94,291.63 L121.82,291.63 L122.70,291.64 L123.58,291.64 L124.47,291.64 L125.35,291.64 L126.23,291.64 L127.11,291.64 L127.99,291.64 L128.88,291.64 L129.76,291.64 L130.64,291.65 L131.52,291.65 L132.41,291.65 L133.29,291.65 L134.17,291.65 L135.06,291.65 L135.94,291.65 L136.82,291.65 L137.70,291.65 L138.59,291.65 L139.47,291.65 L140.35,291.65 L141.24,291.66 L142.12,291.66 L143.00,291.66 L143.89,291.66 L144.77,291.66 L145.66,291.66 L146.54,291.66 L147.42,291.66 L148.31,291.66 L149.19,291.66 L150.08,291.66 L150.96,291.66 L151.84,291.66 L152.73,291.67 L153.61,291.67 L154.50,291.67 L155.38,291.67 L156.27,291.67 L157.15,291.67 L158.04,291.67 L158.92,291.67 L159.80,291.67 L160.69,291.67 L161.57,291.67 L162.46,291.68 L163.34,291.68 L164.23,291.68 L165.11,291.68 L166.00,291.68 L166.88,291.68 L167.77,291.68 L168.65,291.68 L169.54,291.69 L170.43,291.69 L171.31,291.69 L172.20,291.69 L173.08,291.69 L173.97,291.69 L174.85,291.70 L175.74,291.70 L176.62,291.70 L177.51,291.70 L178.40,291.70 L179.28,291.71 L180.17,291.71 L181.05,291.71 L181.94,291.71 L182.82,291.72 L183.71,291.72 L184.60,291.72 L185.48,291.72 L186.37,291.73 L187.25,291.73 L188.14,291.73 L189.03,291.73 L189.91,291.74 L190.80,291.74 L191.69,291.74 L192.57,291.75 L193.46,291.75 L194.34,291.75 L195.23,291.76 L196.12,291.76 L197.00,291.77 L197.89,291.77 L198.78,291.77 L199.66,291.78 L200.55,291.78 L201.44,291.79 L202.32,291.79 L203.21,291.80 L204.10,291.80 L204.98,291.81 L205.87,291.81 L206.76,291.82 L207.64,291.82 L208.53,291.83 L209.42,291.83 L210.30,291.84 L211.19,291.84 L212.08,291.85 L212.96,291.86 L213.85,291.86 L214.74,291.87 L215.62,291.87 L216.51,291.88 L217.40,291.89 L218.28,291.89 L219.17,291.90 L220.06,291.91 L220.94,291.92 L221.83,291.92 L222.72,291.93 L223.60,291.94 L224.49,291.95 L225.38,291.96 L226.26,291.96 L227.15,291.97 L228.04,291.98 L228.92,291.99 L229.81,292.00 L230.70,292.01 L231.58,292.02 L232.47,292.03 L233.36,292.04 L234.24,292.05 L235.13,292.06 L236.02,292.07 L236.90,292.08 L237.79,292.09 L238.68,292.10 L239.56,292.11 L240.45,292.12 L241.34,292.13 L242.22,292.14 L243.11,292.15 L244.00,292.17 L244.88,292.18 L245.77,292.19 L246.66,292.20 L247.54,292.22 L248.43,292.23 L249.32,292.24 L250.20,292.25 L251.09,292.27 L251.98,292.28 L252.86,292.30 L253.75,292.31 L254.64,292.32 L255.52,292.34 L256.41,292.35 L257.30,292.37 L258.18,292.38 L259.07,292.40 L259.95,292.42 L260.84,292.43 L261.73,292.45 L262.61,292.46 L263.50,292.48 L264.38,292.50 L265.27,292.51 L266.16,292.53 L267.04,292.55 L267.93,292.57 L268.81,292.59 L269.70,292.60 L270.59,292.62 L271.47,292.64 L272.36,292.66 L273.24,292.68 L274.13,292.70 L275.01,292.72 L275.90,292.74 L276.79,292.76 L277.67,292.78 L278.56,292.80 L279.44,292.82 L280.33,292.84 L281.21,292.87 L282.10,292.89 L282.98,292.91 L283.87,292.93 L284.75,292.96 L285.64,292.98 L286.52,293.00 L287.41,293.03 L288.29,293.05 L289.18,293.07 L290.06,293.10 L290.95,293.12 L291.83,293.15 L292.72,293.17 L293.60,293.20 L294.49,293.23 L295.37,293.25 L296.26,293.28 L297.14,293.31 L298.02,293.33 L298.91,293.36 L299.79,293.39 L300.68,293.42 L301.56,293.44 L302.45,293.47 L303.33,293.50 L304.21,293.53 L305.10,293.56 L305.98,293.59 L306.86,293.62 L307.75,293.65 L308.63,293.68 L309.51,293.71 L310.40,293.75 L311.28,293.78 L312.16,293.81 L313.05,293.84 L313.93,293.88 L314.81,293.91 L315.70,293.94 L316.58,293.98 L317.46,294.01 L318.35,294.05 L319.23,294.08 L320.11,294.12 L320.99,294.15 L321.88,294.19 L322.76,294.22 L323.64,294.26 L324.52,294.30 L325.40,294.34 L326.29,294.37 L327.17,294.41 L328.05,294.45 L328.93,294.49 L329.81,294.53 L330.69,294.57 L331.58,294.61 L332.46,294.65 L333.34,294.69 L334.22,294.73 L335.10,294.77 L335.98,294.82 L336.86,294.86 L337.74,294.90 L338.62,294.95 L339.50,294.99 L340.39,295.03 L341.27,295.08 L342.15,295.13 L343.03,295.17 L343.91,295.22 L344.79,295.27 L345.67,295.32 L346.55,295.36 L347.43,295.41 L348.31,295.46 L349.19,295.51 L350.06,295.57 L350.94,295.62 L351.82,295.67 L352.70,295.72 L353.58,295.78 L354.46,295.83 L355.34,295.89 L356.22,295.95 L357.10,296.00 L357.97,296.06 L358.85,296.12 L359.73,296.18 L360.61,296.24 L361.49,296.30 L362.37,296.36 L363.24,296.43 L364.12,296.49 L365.00,296.56 L365.88,296.62 L366.75,296.69 L367.63,296.76 L368.51,296.82 L369.38,296.89 L370.26,296.97 L371.14,297.04 L372.01,297.11 L372.89,297.18 L373.77,297.26 L374.64,297.33 L375.52,297.41 L376.40,297.49 L377.27,297.57 L378.15,297.65 L379.02,297.73 L379.90,297.81 L380.77,297.89 L381.65,297.98 L382.52,298.06 L383.40,298.15 L384.27,298.24 L385.15,298.33 L386.02,298.42 L386.90,298.51 L387.77,298.60 L388.65,298.70 L389.52,298.79 L390.39,298.89 L391.27,298.99 L392.14,299.08 L393.01,299.18 L393.89,299.29 L394.76,299.39 L395.63,299.49 L396.51,299.60 L397.38,299.71 L398.25,299.82 L399.12,299.93 L400.00,300.04 L400.87,300.15 L401.74,300.27 L402.61,300.38 L403.48,300.50 L404.35,300.62 L405.23,300.74 L406.10,300.86 L406.97,300.98 L407.84,301.11 L408.71,301.23 L409.58,301.36 L410.45,301.49 L411.32,301.62 L412.19,301.76 L413.06,301.89 L413.93,302.03 L414.80,302.16 L415.67,302.30 L416.54,302.44 L417.41,302.59 L418.28,302.73 L419.15,302.88 L420.02,303.03 L420.88,303.17 L421.75,303.33 L422.62,303.48 L423.49,303.63 L424.36,303.79 L425.22,303.95 L426.09,304.11 L426.96,304.27 L427.83,304.44 L428.69,304.60 L429.56,304.77 L430.43,304.94 L431.29,305.11 L432.16,305.28 L433.03,305.46 L433.89,305.64 L434.76,305.82 L435.62,306.00 L436.49,306.18 L437.35,306.36 L438.22,306.55 L439.08,306.74 L439.95,306.93 L440.81,307.12 L441.68,307.32 L442.54,307.52 L443.41,307.72 L444.27,307.92 L445.13,308.12 L446.00,308.33 L446.86,308.53 L447.72,308.74 L448.59,308.95 L449.45,309.16 L450.31,309.37 L451.18,309.58 L452.04,309.80 L452.90,310.01 L453.76,310.23 L454.63,310.45 L455.49,310.67 L456.35,310.89 L457.21,311.11 L458.07,311.33 L458.94,311.55 L459.80,311.77 L460.66,311.99 L461.52,312.22 L462.39,312.44 L463.25,312.66 L464.11,312.89 L464.97,313.11 L465.83,313.33 L466.70,313.56 L467.56,313.78 L468.42,314.00 L469.28,314.22 L470.15,314.45 L471.01,314.67 L471.87,314.89 L472.73,315.11 L473.60,315.33 L474.46,315.55 L475.32,315.77 L476.19,315.99 L477.05,316.20 L477.91,316.42 L478.78,316.63 L479.64,316.84 L480.50,317.06 L481.37,317.27 L482.23,317.48 L483.10,317.68 L483.96,317.89 L484.83,318.09 L485.69,318.30 L486.56,318.50 L487.42,318.70 L488.29,318.89 L489.15,319.09 L490.02,319.28 L490.88,319.47 L491.75,319.66 L492.62,319.84 L493.48,320.03 L494.35,320.21 L495.22,320.39 L496.09,320.56 L496.96,320.74 L497.82,320.91 L498.69,321.07 L499.56,321.24 L500.43,321.40 L501.30,321.56 L502.17,321.71 L503.04,321.87 L503.91,322.01 L504.78,322.16 L505.66,322.30 L506.53,322.44 L507.40,322.57 L508.27,322.71 L509.15,322.83 L510.02,322.96 L510.89,323.08 L511.77,323.19 L512.64,323.30 L513.52,323.41 L514.40,323.51 L515.27,323.61 L516.15,323.71 L517.03,323.80 L517.90,323.88 L518.78,323.96 L519.66,324.04 L520.54,324.11 L521.42,324.18 L522.30,324.24 L523.18,324.29 L524.06,324.34 L524.94,324.39 L525.82,324.43 L526.70,324.46 L527.58,324.49 L528.46,324.51 L529.35,324.52 L530.23,324.53 L531.11,324.53 L531.99,324.52 L532.87,324.51 L533.74,324.48 L534.62,324.45 L535.50,324.42 L536.38,324.37 L537.25,324.31 L538.13,324.25 L539.00,324.18 L539.88,324.10 L540.75,324.01 L541.62,323.91 L542.49,323.80 L543.36,323.68 L544.22,323.55 L545.09,323.41 L545.95,323.26 L546.82,323.10 L547.68,322.93 L548.54,322.75 L549.39,322.57 L550.25,322.37 L551.10,322.17 L551.95,321.95 L552.80,321.73 L553.65,321.50 L554.49,321.26 L555.34,321.01 L556.18,320.76 L557.01,320.49 L557.85,320.22 L558.68,319.93 L559.51,319.64 L560.34,319.35 L561.16,319.04 L561.99,318.73 L562.80,318.41 L563.62,318.08 L564.43,317.74 L565.24,317.40 L566.05,317.05 L566.85,316.69 L567.65,316.32 L568.45,315.95 L569.24,315.57 L570.03,315.19 L570.81,314.80 L571.60,314.40 L572.37,313.99 L573.15,313.58 L573.92,313.16 L574.69,312.74 L575.46,312.31 L576.22,311.88 L576.98,311.44 L577.74,310.99 L578.49,310.54 L579.25,310.08 L580.00,309.62 L580.74,309.16 L581.49,308.68 L582.23,308.21 L582.97,307.73 L583.70,307.24 L584.44,306.76 L585.17,306.26 L585.90,305.77 L586.63,305.27 L587.35,304.76 L588.08,304.25 L588.80,303.74 L589.52,303.23 L590.23,302.71 L590.95,302.19 L591.66,301.67 L592.37,301.14 L593.08,300.61 L593.79,300.08 L594.50,299.54 L595.21,299.01 L595.91,298.47 L596.61,297.93 L597.32,297.39 L598.02,296.84 L598.71,296.30 L599.41,295.75 L600.11,295.20 L600.80,294.65 L601.50,294.10 L602.19,293.55 L602.89,293.00 L603.58,292.44 L604.27,291.89 L604.96,291.34 L605.65,290.78 L606.34,290.22 L607.03,289.67 L607.72,289.11 L608.41,288.55 L609.09,288.00 L609.78,287.44 L610.47,286.88 L611.16,286.32 L611.84,285.77 L612.53,285.21 L613.22,284.65 L613.90,284.09 L614.59,283.53 L615.28,282.97 L615.97,282.41 L616.65,281.85 L617.34,281.29 L618.03,280.74 L618.72,280.18 L619.41,279.62 L620.10,279.06 L620.79,278.50 L621.48,277.95 L622.17,277.39 L622.87,276.83 L623.56,276.28 L624.25,275.72 L624.95,275.17 L625.65,274.61 L626.34,274.06 L627.04,273.51 L627.74,272.95 L628.44,272.40 L629.15,271.85 L629.85,271.30 L630.56,270.76 L631.27,270.21 L631.98,269.67 L632.69,269.13 L633.40,268.59 L634.12,268.05 L634.84,267.52 L635.56,266.99 L636.28,266.46 L637.01,265.94 L637.74,265.42 L638.47,264.90 L639.21,264.39 L639.94,263.88 L640.69,263.38 L641.43,262.88 L642.18,262.39 L642.93,261.90 L643.69,261.41 L644.45,260.94 L645.21,260.46 L645.98,259.99 L646.75,259.53 L647.52,259.08 L648.30,258.63 L649.09,258.19 L649.87,257.75 L650.66,257.32 L651.46,256.90 L652.26,256.49 L653.06,256.08 L653.86,255.68 L654.67,255.29 L655.48,254.91 L656.29,254.53 L657.11,254.16 L657.92,253.81 L658.74,253.46 L659.57,253.12 L660.39,252.79 L661.22,252.47 L662.05,252.15 L662.88,251.85 L663.71,251.56 L664.55,251.28 L665.38,251.01 L666.22,250.75 L667.06,250.50 L667.90,250.26 L668.74,250.04 L669.58,249.82 L670.43,249.62 L671.27,249.42 L672.11,249.24 L672.96,249.08 L673.80,248.92 L674.65,248.78 L675.50,248.65 L676.34,248.53 L677.19,248.43 L678.03,248.34 L678.88,248.26 L679.72,248.20 L680.57,248.15 L681.41,248.11 L682.26,248.09 L683.10,248.08 L683.94,248.09 L684.79,248.11 L685.63,248.14 L686.47,248.18 L687.31,248.24 L688.15,248.31 L688.99,248.39 L689.83,248.48 L690.67,248.58 L691.51,248.70 L692.34,248.82 L693.18,248.96 L694.02,249.10 L694.86,249.26 L695.69,249.42 L696.53,249.60 L697.36,249.78 L698.20,249.98 L699.03,250.18 L699.87,250.39 L700.70,250.61 L701.54,250.84 L702.37,251.07 L703.20,251.32 L704.04,251.57 L704.87,251.82 L705.70,252.09 L706.54,252.36 L707.37,252.64 L708.20,252.92 L709.03,253.21 L709.86,253.51 L710.69,253.81 L711.52,254.11 L712.35,254.43 L713.18,254.74 L714.01,255.06 L714.84,255.39 L715.67,255.72 L716.50,256.05 L717.33,256.38 L718.16,256.72 L718.99,257.06 L719.82,257.41 L720.65,257.76 L721.48,258.11 L722.31,258.46 L723.13,258.81 L723.96,259.17 L724.79,259.52 L725.62,259.88 L726.45,260.24 L727.27,260.60 L728.10,260.96 L728.93,261.32 L729.76,261.68 L730.59,262.05 L731.41,262.41 L732.24,262.77 L733.07,263.14 L733.90,263.50 L734.73,263.87 L735.55,264.23 L736.38,264.60 L737.21,264.96 L738.04,265.33 L738.86,265.69 L739.69,266.05 L740.52,266.42 L741.35,266.78 L742.18,267.14 L743.01,267.50 L743.83,267.86 L744.66,268.22 L745.49,268.58 L746.32,268.94 L747.15,269.29 L747.98,269.65 L748.81,270.00 L749.64,270.35 L750.47,270.70 L751.30,271.05 L752.13,271.39 L752.96,271.73 L753.79,272.08 L754.62,272.42 L755.45,272.75 L756.28,273.09 L757.11,273.42 L757.95,273.75 L758.78,274.08 L759.61,274.40 L760.44,274.72 L761.28,275.04 L762.11,275.36 L762.94,275.67 L763.78,275.98 L764.61,276.29 L765.44,276.59 L766.28,276.89 L767.11,277.19 L767.95,277.49 L768.79,277.78 L769.62,278.07 L770.46,278.36 L771.30,278.64 L772.13,278.92 L772.97,279.20 L773.81,279.47 L774.65,279.74 L775.49,280.01 L776.33,280.28 L777.17,280.54 L778.01,280.80 L778.85,281.06 L779.69,281.31 L780.53,281.56 L781.37,281.81 L782.22,282.05 L783.06,282.29 L783.90,282.53 L784.75,282.76 L785.59,282.99 L786.44,283.22 L787.29,283.44 L788.13,283.66 L788.98,283.88 L789.83,284.09 L790.68,284.30 L791.53,284.51 L792.38,284.72 L793.23,284.92 L794.08,285.11 L794.93,285.31 L795.78,285.50 L796.63,285.68 L797.49,285.87 L798.34,286.05 L799.20,286.22 L800.05,286.40 L800.91,286.56 L801.76,286.73 L802.62,286.89 L803.48,287.05 L804.34,287.20 L805.20,287.36 L806.06,287.50 L806.92,287.65 L807.78,287.79 L808.65,287.92 L809.51,288.06 L810.38,288.18 L811.24,288.31 L812.11,288.43 L812.97,288.55 L813.84,288.66 L814.71,288.77 L815.58,288.88 L816.45,288.98 L817.32,289.08 L818.19,289.17 L819.07,289.26 L819.94,289.35 L820.81,289.43 L821.69,289.51 L822.57,289.59 L823.44,289.66 L824.32,289.73 L825.20,289.79 L826.08,289.85 L826.96,289.90 L827.85,289.95" stroke="#0000ff" stroke-width="1.7" stroke-dasharray="7.545,4.527" stroke-dashoffset="1.3"/>
<path d="M65.80,291.43 L66.38,291.43 L67.23,291.42 L68.08,291.42 L68.94,291.41 L69.79,291.41 L70.65,291.40 L71.50,291.40 L72.36,291.39 L73.21,291.39 L74.07,291.39 L74.92,291.38 L75.77,291.38 L76.63,291.37 L77.48,291.37 L78.34,291.36 L79.19,291.36 L80.05,291.36 L80.90,291.35 L81.75,291.35 L82.61,291.35 L83.46,291.34 L84.32,291.34 L85.17,291.34 L86.03,291.33 L86.88,291.33 L87.74,291.33 L88.59,291.32 L89.45,291.32 L90.30,291.32 L91.15,291.31 L92.01,291.31 L92.86,291.31 L93.72,291.30 L94.57,291.30 L95.43,291.30 L96.28,291.30 L97.14,291.29 L97.99,291.29 L98.85,291.29 L99.70,291.29 L100.56,291.28 L101.41,291.28 L102.27,291.28 L103.12,291.28 L103.97,291.27 L104.83,291.27 L105.68,291.27 L106.54,291.27 L107.39,291.26 L108.25,291.26 L109.10,291.26 L109.96,291.26 L110.81,291.26 L111.67,291.25 L112.52,291.25 L113.38,291.25 L114.23,291.25 L115.09,291.25 L115.94,291.25 L116.80,291.24 L117.65,291.24 L118.51,291.24 L119.36,291.24 L120.22,291.24 L121.07,291.24 L121.93,291.23 L122.78,291.23 L123.64,291.23 L124.49,291.23 L125.34,291.23 L126.20,291.23 L127.05,291.23 L127.91,291.22 L128.76,291.22 L129.62,291.22 L130.47,291.22 L131.33,291.22 L132.18,291.22 L133.04,291.22 L133.89,291.22 L134.75,291.22 L135.60,291.21 L136.46,291.21 L137.31,291.21 L138.17,291.21 L139.02,291.21 L139.88,291.21 L140.73,291.21 L141.59,291.21 L142.44,291.21 L143.30,291.21 L144.15,291.20 L145.01,291.20 L145.86,291.20 L146.72,291.20 L147.58,291.20 L148.43,291.20 L149.29,291.20 L150.14,291.20 L151.00,291.20 L151.85,291.20 L152.71,291.20 L153.56,291.20 L154.42,291.20 L155.27,291.19 L156.13,291.19 L156.98,291.19 L157.84,291.19 L158.69,291.19 L159.55,291.19 L160.40,291.19 L161.26,291.19 L162.11,291.19 L162.97,291.19 L163.82,291.19 L164.68,291.19 L165.53,291.19 L166.39,291.18 L167.24,291.18 L168.10,291.18 L168.95,291.18 L169.81,291.18 L170.66,291.18 L171.52,291.18 L172.38,291.18 L173.23,291.18 L174.09,291.18 L174.94,291.18 L175.80,291.18 L176.65,291.17 L177.51,291.17 L178.36,291.17 L179.22,291.17 L180.07,291.17 L180.93,291.17 L181.78,291.17 L182.64,291.17 L183.49,291.17 L184.35,291.17 L185.20,291.16 L186.06,291.16 L186.92,291.16 L187.77,291.16 L188.63,291.16 L189.48,291.16 L190.34,291.16 L191.19,291.16 L192.05,291.16 L192.90,291.15 L193.76,291.15 L194.61,291.15 L195.47,291.15 L196.32,291.15 L197.18,291.15 L198.03,291.15 L198.89,291.14 L199.75,291.14 L200.60,291.14 L201.46,291.14 L202.31,291.14 L203.17,291.14 L204.02,291.14 L204.88,291.13 L205.73,291.13 L206.59,291.13 L207.44,291.13 L208.30,291.13 L209.15,291.12 L210.01,291.12 L210.87,291.12 L211.72,291.12 L212.58,291.12 L213.43,291.11 L214.29,291.11 L215.14,291.11 L216.00,291.11 L216.85,291.11 L217.71,291.10 L218.56,291.10 L219.42,291.10 L220.27,291.10 L221.13,291.09 L221.99,291.09 L222.84,291.09 L223.70,291.09 L224.55,291.08 L225.41,291.08 L226.26,291.08 L227.12,291.07 L227.97,291.07 L228.83,291.07 L229.68,291.07 L230.54,291.06 L231.40,291.06 L232.25,291.06 L233.11,291.05 L233.96,291.05 L234.82,291.05 L235.67,291.04 L236.53,291.04 L237.38,291.04 L238.24,291.03 L239.09,291.03 L239.95,291.03 L240.81,291.02 L241.66,291.02 L242.52,291.01 L243.37,291.01 L244.23,291.01 L245.08,291.00 L245.94,291.00 L246.79,290.99 L247.65,290.99 L248.50,290.98 L249.36,290.98 L250.22,290.97 L251.07,290.97 L251.93,290.97 L252.78,290.96 L253.64,290.96 L254.49,290.95 L255.35,290.95 L256.20,290.94 L257.06,290.94 L257.91,290.93 L258.77,290.93 L259.63,290.92 L260.48,290.91 L261.34,290.91 L262.19,290.90 L263.05,290.90 L263.90,290.89 L264.76,290.89 L265.61,290.88 L266.47,290.87 L267.32,290.87 L268.18,290.86 L269.04,290.85 L269.89,290.85 L270.75,290.84 L271.60,290.84 L272.46,290.83 L273.31,290.82 L274.17,290.81 L275.02,290.81 L275.88,290.80 L276.73,290.79 L277.59,290.79 L278.45,290.78 L279.30,290.77 L280.16,290.76 L281.01,290.76 L281.87,290.75 L282.72,290.74 L283.58,290.73 L284.43,290.72 L285.29,290.72 L286.14,290.71 L287.00,290.70 L287.85,290.69 L288.71,290.68 L289.57,290.67 L290.42,290.67 L291.28,290.66 L292.13,290.65 L292.99,290.64 L293.84,290.63 L294.70,290.62 L295.55,290.61 L296.41,290.60 L297.26,290.59 L298.12,290.58 L298.97,290.57 L299.83,290.56 L300.69,290.55 L301.54,290.54 L302.40,290.53 L303.25,290.52 L304.11,290.51 L304.96,290.50 L305.82,290.49 L306.67,290.48 L307.53,290.47 L308.38,290.46 L309.24,290.45 L310.09,290.43 L310.95,290.42 L311.80,290.41 L312.66,290.40 L313.52,290.39 L314.37,290.38 L315.23,290.36 L316.08,290.35 L316.94,290.34 L317.79,290.33 L318.65,290.31 L319.50,290.30 L320.36,290.29 L321.21,290.27 L322.07,290.26 L322.92,290.25 L323.78,290.24 L324.63,290.22 L325.49,290.21 L326.34,290.19 L327.20,290.18 L328.05,290.17 L328.91,290.15 L329.77,290.14 L330.62,290.12 L331.48,290.11 L332.33,290.09 L333.19,290.08 L334.04,290.06 L334.90,290.05 L335.75,290.03 L336.61,290.02 L337.46,290.00 L338.32,289.99 L339.17,289.97 L340.03,289.95 L340.88,289.94 L341.74,289.92 L342.59,289.91 L343.45,289.89 L344.30,289.87 L345.16,289.86 L346.01,289.84 L346.87,289.82 L347.72,289.80 L348.58,289.79 L349.43,289.77 L350.29,289.75 L351.14,289.73 L352.00,289.71 L352.85,289.70 L353.71,289.68 L354.56,289.66 L355.42,289.64 L356.27,289.62 L357.13,289.60 L357.98,289.58 L358.84,289.56 L359.69,289.54 L360.55,289.52 L361.40,289.50 L362.26,289.48 L363.11,289.46 L363.97,289.44 L364.82,289.42 L365.68,289.40 L366.53,289.38 L367.39,289.36 L368.24,289.34 L369.10,289.32 L369.95,289.30 L370.81,289.27 L371.66,289.25 L372.52,289.23 L373.37,289.21 L374.23,289.18 L375.08,289.16 L375.94,289.13 L376.79,289.11 L377.65,289.09 L378.50,289.06 L379.36,289.04 L380.21,289.01 L381.07,288.98 L381.92,288.96 L382.78,288.93 L383.63,288.90 L384.49,288.88 L385.34,288.85 L386.20,288.82 L387.05,288.79 L387.91,288.76 L388.76,288.73 L389.62,288.70 L390.47,288.67 L391.33,288.64 L392.18,288.61 L393.03,288.58 L393.89,288.54 L394.74,288.51 L395.60,288.48 L396.45,288.44 L397.31,288.41 L398.16,288.37 L399.02,288.33 L399.87,288.30 L400.73,288.26 L401.58,288.22 L402.44,288.18 L403.29,288.14 L404.15,288.10 L405.00,288.06 L405.85,288.02 L406.71,287.98 L407.56,287.94 L408.42,287.89 L409.27,287.85 L410.13,287.80 L410.98,287.76 L411.84,287.71 L412.69,287.66 L413.54,287.62 L414.40,287.57 L415.25,287.52 L416.11,287.47 L416.96,287.42 L417.82,287.36 L418.67,287.31 L419.53,287.26 L420.38,287.20 L421.23,287.15 L422.09,287.09 L422.94,287.03 L423.80,286.98 L424.65,286.92 L425.51,286.86 L426.36,286.80 L427.22,286.73 L428.07,286.67 L428.92,286.61 L429.78,286.54 L430.63,286.48 L431.49,286.41 L432.34,286.34 L433.20,286.27 L434.05,286.20 L434.90,286.13 L435.76,286.06 L436.61,285.99 L437.47,285.91 L438.32,285.84 L439.17,285.76 L440.03,285.69 L440.88,285.61 L441.74,285.53 L442.59,285.45 L443.45,285.37 L444.30,285.28 L445.15,285.20 L446.01,285.12 L446.86,285.03 L447.72,284.94 L448.57,284.86 L449.42,284.77 L450.28,284.68 L451.13,284.59 L451.99,284.50 L452.84,284.41 L453.69,284.32 L454.55,284.22 L455.40,284.13 L456.25,284.04 L457.11,283.94 L457.96,283.85 L458.81,283.75 L459.67,283.66 L460.52,283.56 L461.37,283.47 L462.23,283.37 L463.08,283.27 L463.93,283.18 L464.79,283.08 L465.64,282.98 L466.49,282.88 L467.35,282.79 L468.20,282.69 L469.05,282.59 L469.90,282.49 L470.76,282.40 L471.61,282.30 L472.46,282.20 L473.31,282.10 L474.17,282.01 L475.02,281.91 L475.87,281.81 L476.72,281.72 L477.57,281.62 L478.43,281.52 L479.28,281.43 L480.13,281.33 L480.98,281.24 L481.83,281.15 L482.68,281.05 L483.54,280.96 L484.39,280.87 L485.24,280.78 L486.09,280.69 L486.94,280.60 L487.79,280.51 L488.64,280.42 L489.49,280.33 L490.34,280.24 L491.19,280.16 L492.04,280.07 L492.89,279.99 L493.74,279.90 L494.59,279.82 L495.44,279.74 L496.29,279.66 L497.14,279.58 L497.99,279.50 L498.84,279.43 L499.68,279.35 L500.53,279.28 L501.38,279.21 L502.23,279.13 L503.08,279.06 L503.93,279.00 L504.77,278.93 L505.62,278.86 L506.47,278.80 L507.32,278.74 L508.16,278.68 L509.01,278.62 L509.86,278.56 L510.70,278.50 L511.55,278.45 L512.40,278.40 L513.24,278.35 L514.09,278.30 L514.94,278.25 L515.78,278.20 L516.63,278.16 L517.47,278.12 L518.32,278.08 L519.16,278.04 L520.01,278.01 L520.85,277.98 L521.69,277.95 L522.54,277.92 L523.38,277.89 L524.23,277.87 L525.07,277.85 L525.91,277.83 L526.76,277.81 L527.60,277.80 L528.44,277.79 L529.28,277.78 L530.13,277.78 L530.97,277.78 L531.81,277.78 L532.65,277.79 L533.49,277.80 L534.33,277.81 L535.17,277.83 L536.01,277.85 L536.86,277.88 L537.70,277.91 L538.54,277.94 L539.37,277.98 L540.21,278.02 L541.05,278.06 L541.89,278.11 L542.73,278.17 L543.57,278.23 L544.41,278.29 L545.25,278.36 L546.08,278.43 L546.92,278.51 L547.76,278.60 L548.59,278.68 L549.43,278.78 L550.27,278.88 L551.10,278.98 L551.94,279.09 L552.78,279.21 L553.61,279.33 L554.45,279.46 L555.28,279.59 L556.11,279.73 L556.95,279.87 L557.78,280.02 L558.62,280.17 L559.45,280.33 L560.28,280.50 L561.12,280.66 L561.95,280.84 L562.78,281.02 L563.61,281.20 L564.44,281.39 L565.27,281.58 L566.11,281.78 L566.94,281.99 L567.77,282.20 L568.60,282.41 L569.43,282.63 L570.26,282.85 L571.08,283.08 L571.91,283.31 L572.74,283.55 L573.57,283.79 L574.40,284.03 L575.23,284.28 L576.05,284.54 L576.88,284.80 L577.71,285.06 L578.53,285.32 L579.36,285.59 L580.18,285.87 L581.01,286.14 L581.83,286.42 L582.66,286.71 L583.48,286.99 L584.31,287.28 L585.13,287.57 L585.96,287.87 L586.78,288.17 L587.60,288.47 L588.43,288.77 L589.25,289.07 L590.07,289.38 L590.90,289.68 L591.72,289.99 L592.54,290.30 L593.37,290.61 L594.19,290.93 L595.01,291.24 L595.83,291.56 L596.65,291.87 L597.47,292.19 L598.30,292.51 L599.12,292.83 L599.94,293.14 L600.76,293.46 L601.58,293.78 L602.40,294.10 L603.22,294.42 L604.04,294.74 L604.87,295.05 L605.69,295.37 L606.51,295.69 L607.33,296.00 L608.15,296.31 L608.97,296.63 L609.79,296.94 L610.61,297.25 L611.43,297.56 L612.25,297.87 L613.07,298.17 L613.89,298.47 L614.71,298.78 L615.54,299.07 L616.36,299.37 L617.18,299.66 L618.00,299.96 L618.82,300.25 L619.64,300.53 L620.46,300.81 L621.28,301.09 L622.10,301.37 L622.92,301.64 L623.75,301.91 L624.57,302.18 L625.39,302.44 L626.21,302.70 L627.03,302.95 L627.86,303.20 L628.68,303.45 L629.50,303.69 L630.32,303.92 L631.14,304.15 L631.97,304.38 L632.79,304.60 L633.61,304.82 L634.44,305.03 L635.26,305.23 L636.08,305.43 L636.91,305.63 L637.73,305.82 L638.56,306.00 L639.38,306.18 L640.21,306.35 L641.03,306.52 L641.86,306.68 L642.68,306.83 L643.51,306.98 L644.33,307.13 L645.16,307.26 L645.98,307.39 L646.81,307.52 L647.64,307.63 L648.46,307.74 L649.29,307.85 L650.12,307.95 L650.95,308.04 L651.77,308.12 L652.60,308.20 L653.43,308.27 L654.26,308.33 L655.09,308.39 L655.91,308.44 L656.74,308.48 L657.57,308.51 L658.40,308.54 L659.23,308.56 L660.06,308.57 L660.89,308.58 L661.72,308.57 L662.55,308.56 L663.38,308.54 L664.21,308.52 L665.04,308.49 L665.88,308.45 L666.71,308.40 L667.54,308.35 L668.37,308.29 L669.20,308.23 L670.04,308.16 L670.87,308.09 L671.70,308.01 L672.54,307.92 L673.37,307.83 L674.20,307.74 L675.04,307.64 L675.87,307.54 L676.71,307.43 L677.54,307.32 L678.38,307.20 L679.21,307.08 L680.05,306.96 L680.89,306.83 L681.72,306.71 L682.56,306.57 L683.39,306.44 L684.23,306.30 L685.07,306.16 L685.91,306.02 L686.75,305.88 L687.58,305.74 L688.42,305.59 L689.26,305.44 L690.10,305.29 L690.94,305.15 L691.78,305.00 L692.62,304.85 L693.46,304.69 L694.30,304.54 L695.14,304.39 L695.98,304.24 L696.82,304.08 L697.67,303.93 L698.51,303.78 L699.35,303.62 L700.19,303.47 L701.03,303.31 L701.88,303.16 L702.72,303.00 L703.56,302.85 L704.41,302.69 L705.25,302.53 L706.10,302.38 L706.94,302.22 L707.79,302.07 L708.63,301.91 L709.48,301.76 L710.32,301.60 L711.17,301.45 L712.01,301.29 L712.86,301.14 L713.70,300.98 L714.55,300.83 L715.40,300.68 L716.25,300.52 L717.09,300.37 L717.94,300.22 L718.79,300.07 L719.64,299.91 L720.48,299.76 L721.33,299.61 L722.18,299.47 L723.03,299.32 L723.88,299.17 L724.73,299.02 L725.58,298.88 L726.42,298.73 L727.27,298.59 L728.12,298.45 L728.97,298.30 L729.82,298.16 L730.67,298.02 L731.52,297.88 L732.37,297.75 L733.23,297.61 L734.08,297.47 L734.93,297.34 L735.78,297.21 L736.63,297.08 L737.48,296.95 L738.33,296.82 L739.18,296.69 L740.04,296.57 L740.89,296.44 L741.74,296.32 L742.59,296.20 L743.44,296.08 L744.30,295.96 L745.15,295.85 L746.00,295.73 L746.85,295.62 L747.71,295.51 L748.56,295.40 L749.41,295.30 L750.27,295.19 L751.12,295.09 L751.97,294.99 L752.83,294.89 L753.68,294.79 L754.53,294.70 L755.39,294.61 L756.24,294.52 L757.10,294.43 L757.95,294.35 L758.80,294.26 L759.66,294.18 L760.51,294.11 L761.37,294.03 L762.22,293.96 L763.08,293.89 L763.93,293.82 L764.79,293.75 L765.64,293.68 L766.49,293.62 L767.35,293.56 L768.20,293.50 L769.06,293.44 L769.91,293.39 L770.77,293.33 L771.62,293.28 L772.48,293.23 L773.33,293.18 L774.19,293.14 L775.04,293.09 L775.90,293.05 L776.75,293.00 L777.61,292.96 L778.46,292.92 L779.32,292.88 L780.17,292.85 L781.03,292.81 L781.89,292.77 L782.74,292.74 L783.60,292.71 L784.45,292.68 L785.31,292.64 L786.16,292.61 L787.02,292.59 L787.87,292.56 L788.73,292.53 L789.58,292.50 L790.44,292.48 L791.29,292.45 L792.15,292.43 L793.00,292.40 L793.86,292.38 L794.71,292.35 L795.57,292.33 L796.42,292.31 L797.28,292.29 L798.13,292.27 L798.99,292.24 L799.84,292.22 L800.69,292.20 L801.55,292.18 L802.40,292.16 L803.26,292.14 L804.11,292.12 L804.97,292.09 L805.82,292.07 L806.68,292.05 L807.53,292.03 L808.38,292.01 L809.24,291.98 L810.09,291.96 L810.94,291.94 L811.80,291.91 L812.65,291.89 L813.51,291.86 L814.36,291.84 L815.21,291.81 L816.06,291.79 L816.92,291.76 L817.77,291.73 L818.62,291.70 L819.48,291.67 L820.33,291.64 L821.18,291.61 L822.03,291.57 L822.89,291.54 L823.74,291.51 L824.59,291.47 L825.44,291.43 L826.29,291.39 L827.14,291.35 L827.85,291.31" stroke="#ff0000" stroke-width="1.7" stroke-dasharray="1.509,4.527" stroke-dashoffset="-0.6"/>
<path d="M65.80,291.39 L66.33,291.39 L67.21,291.40 L68.09,291.40 L68.98,291.40 L69.86,291.41 L70.74,291.41 L71.63,291.41 L72.51,291.42 L73.39,291.42 L74.28,291.42 L75.16,291.42 L76.04,291.43 L76.92,291.43 L77.81,291.43 L78.69,291.43 L79.57,291.43 L80.46,291.44 L81.34,291.44 L82.22,291.44 L83.10,291.44 L83.99,291.44 L84.87,291.44 L85.75,291.45 L86.64,291.45 L87.52,291.45 L88.40,291.45 L89.28,291.45 L90.17,291.45 L91.05,291.45 L91.93,291.45 L92.82,291.46 L93.70,291.46 L94.58,291.46 L95.46,291.46 L96.35,291.46 L97.23,291.46 L98.11,291.46 L98.99,291.46 L99.88,291.46 L100.76,291.46 L101.64,291.46 L102.53,291.46 L103.41,291.46 L104.29,291.46 L105.17,291.46 L106.06,291.46 L106.94,291.46 L107.82,291.46 L108.70,291.46 L109.59,291.46 L110.47,291.46 L111.35,291.45 L112.23,291.45 L113.12,291.45 L114.00,291.45 L114.88,291.45 L115.76,291.45 L116.65,291.45 L117.53,291.45 L118.41,291.45 L119.29,291.44 L120.18,291.44 L121.06,291.44 L121.94,291.44 L122.82,291.44 L123.71,291.44 L124.59,291.44 L125.47,291.43 L126.35,291.43 L127.23,291.43 L128.12,291.43 L129.00,291.43 L129.88,291.42 L130.76,291.42 L131.65,291.42 L132.53,291.42 L133.41,291.41 L134.29,291.41 L135.17,291.41 L136.06,291.41 L136.94,291.40 L137.82,291.40 L138.70,291.40 L139.59,291.40 L140.47,291.39 L141.35,291.39 L142.23,291.39 L143.11,291.39 L144.00,291.38 L144.88,291.38 L145.76,291.38 L146.64,291.37 L147.52,291.37 L148.41,291.37 L149.29,291.36 L150.17,291.36 L151.05,291.36 L151.93,291.35 L152.82,291.35 L153.70,291.35 L154.58,291.34 L155.46,291.34 L156.34,291.34 L157.23,291.33 L158.11,291.33 L158.99,291.32 L159.87,291.32 L160.75,291.32 L161.64,291.31 L162.52,291.31 L163.40,291.31 L164.28,291.30 L165.16,291.30 L166.05,291.29 L166.93,291.29 L167.81,291.29 L168.69,291.28 L169.57,291.28 L170.45,291.27 L171.34,291.27 L172.22,291.26 L173.10,291.26 L173.98,291.26 L174.86,291.25 L175.74,291.25 L176.63,291.24 L177.51,291.24 L178.39,291.23 L179.27,291.23 L180.15,291.22 L181.03,291.22 L181.92,291.22 L182.80,291.21 L183.68,291.21 L184.56,291.20 L185.44,291.20 L186.32,291.19 L187.21,291.19 L188.09,291.18 L188.97,291.18 L189.85,291.17 L190.73,291.17 L191.61,291.16 L192.49,291.16 L193.38,291.15 L194.26,291.15 L195.14,291.14 L196.02,291.14 L196.90,291.13 L197.78,291.13 L198.66,291.12 L199.55,291.12 L200.43,291.11 L201.31,291.11 L202.19,291.10 L203.07,291.10 L203.95,291.09 L204.83,291.09 L205.72,291.08 L206.60,291.08 L207.48,291.07 L208.36,291.07 L209.24,291.06 L210.12,291.06 L211.00,291.05 L211.88,291.05 L212.77,291.04 L213.65,291.04 L214.53,291.03 L215.41,291.03 L216.29,291.02 L217.17,291.02 L218.05,291.01 L218.93,291.01 L219.81,291.00 L220.70,291.00 L221.58,290.99 L222.46,290.99 L223.34,290.98 L224.22,290.97 L225.10,290.97 L225.98,290.96 L226.86,290.96 L227.74,290.95 L228.62,290.95 L229.51,290.94 L230.39,290.94 L231.27,290.93 L232.15,290.93 L233.03,290.92 L233.91,290.92 L234.79,290.91 L235.67,290.91 L236.55,290.90 L237.43,290.90 L238.31,290.89 L239.20,290.89 L240.08,290.88 L240.96,290.88 L241.84,290.87 L242.72,290.87 L243.60,290.86 L244.48,290.86 L245.36,290.85 L246.24,290.85 L247.12,290.84 L248.00,290.83 L248.88,290.83 L249.76,290.82 L250.64,290.82 L251.53,290.81 L252.41,290.81 L253.29,290.80 L254.17,290.80 L255.05,290.80 L255.93,290.79 L256.81,290.79 L257.69,290.78 L258.57,290.78 L259.45,290.77 L260.33,290.77 L261.21,290.76 L262.09,290.76 L262.97,290.75 L263.85,290.75 L264.73,290.74 L265.61,290.74 L266.49,290.73 L267.37,290.73 L268.26,290.72 L269.14,290.72 L270.02,290.71 L270.90,290.71 L271.78,290.70 L272.66,290.70 L273.54,290.69 L274.42,290.69 L275.30,290.68 L276.18,290.68 L277.06,290.67 L277.94,290.67 L278.82,290.66 L279.70,290.66 L280.58,290.65 L281.46,290.65 L282.34,290.64 L283.22,290.64 L284.10,290.63 L284.98,290.62 L285.86,290.62 L286.74,290.61 L287.62,290.60 L288.50,290.60 L289.38,290.59 L290.26,290.59 L291.14,290.58 L292.02,290.57 L292.90,290.56 L293.78,290.56 L294.66,290.55 L295.54,290.54 L296.42,290.54 L297.30,290.53 L298.18,290.52 L299.06,290.51 L299.94,290.50 L300.82,290.49 L301.70,290.49 L302.58,290.48 L303.46,290.47 L304.34,290.46 L305.22,290.45 L306.10,290.44 L306.98,290.43 L307.86,290.42 L308.74,290.41 L309.62,290.40 L310.50,290.39 L311.38,290.38 L312.26,290.37 L313.14,290.36 L314.02,290.34 L314.90,290.33 L315.78,290.32 L316.66,290.31 L317.54,290.29 L318.42,290.28 L319.30,290.27 L320.18,290.25 L321.06,290.24 L321.94,290.23 L322.82,290.21 L323.70,290.20 L324.58,290.18 L325.45,290.17 L326.33,290.15 L327.21,290.14 L328.09,290.12 L328.97,290.10 L329.85,290.09 L330.73,290.07 L331.61,290.05 L332.49,290.03 L333.37,290.02 L334.25,290.00 L335.13,289.98 L336.01,289.96 L336.89,289.94 L337.77,289.92 L338.65,289.90 L339.53,289.88 L340.41,289.86 L341.28,289.84 L342.16,289.81 L343.04,289.79 L343.92,289.77 L344.80,289.75 L345.68,289.72 L346.56,289.70 L347.44,289.67 L348.32,289.65 L349.20,289.62 L350.08,289.60 L350.96,289.57 L351.84,289.55 L352.71,289.52 L353.59,289.49 L354.47,289.47 L355.35,289.44 L356.23,289.41 L357.11,289.38 L357.99,289.35 L358.87,289.32 L359.75,289.29 L360.63,289.26 L361.51,289.23 L362.38,289.19 L363.26,289.16 L364.14,289.13 L365.02,289.10 L365.90,289.06 L366.78,289.03 L367.66,288.99 L368.54,288.96 L369.42,288.92 L370.30,288.88 L371.17,288.85 L372.05,288.81 L372.93,288.77 L373.81,288.73 L374.69,288.69 L375.57,288.65 L376.45,288.61 L377.33,288.57 L378.20,288.53 L379.08,288.49 L379.96,288.45 L380.84,288.40 L381.72,288.36 L382.60,288.31 L383.48,288.27 L384.36,288.22 L385.23,288.18 L386.11,288.13 L386.99,288.08 L387.87,288.04 L388.75,287.99 L389.63,287.94 L390.51,287.89 L391.38,287.84 L392.26,287.79 L393.14,287.73 L394.02,287.68 L394.90,287.63 L395.78,287.57 L396.66,287.52 L397.53,287.46 L398.41,287.41 L399.29,287.35 L400.17,287.29 L401.05,287.23 L401.93,287.17 L402.80,287.11 L403.68,287.05 L404.56,286.99 L405.44,286.93 L406.32,286.87 L407.20,286.80 L408.07,286.74 L408.95,286.67 L409.83,286.60 L410.71,286.54 L411.59,286.47 L412.47,286.40 L413.34,286.33 L414.22,286.25 L415.10,286.18 L415.98,286.11 L416.86,286.03 L417.73,285.96 L418.61,285.88 L419.49,285.80 L420.37,285.72 L421.25,285.64 L422.13,285.56 L423.00,285.48 L423.88,285.39 L424.76,285.31 L425.64,285.22 L426.52,285.14 L427.39,285.05 L428.27,284.96 L429.15,284.87 L430.03,284.78 L430.91,284.68 L431.78,284.59 L432.66,284.49 L433.54,284.40 L434.42,284.30 L435.29,284.20 L436.17,284.10 L437.05,284.00 L437.93,283.89 L438.81,283.79 L439.68,283.68 L440.56,283.58 L441.44,283.47 L442.32,283.36 L443.19,283.25 L444.07,283.13 L444.95,283.02 L445.83,282.90 L446.71,282.78 L447.58,282.67 L448.46,282.54 L449.34,282.42 L450.22,282.30 L451.09,282.17 L451.97,282.05 L452.85,281.92 L453.73,281.79 L454.60,281.66 L455.48,281.53 L456.36,281.39 L457.24,281.26 L458.11,281.12 L458.99,280.98 L459.87,280.84 L460.75,280.69 L461.62,280.55 L462.50,280.40 L463.38,280.26 L464.26,280.11 L465.13,279.96 L466.01,279.80 L466.89,279.65 L467.77,279.49 L468.64,279.33 L469.52,279.17 L470.40,279.01 L471.27,278.85 L472.15,278.68 L473.03,278.51 L473.91,278.34 L474.78,278.17 L475.66,278.00 L476.54,277.82 L477.41,277.65 L478.29,277.47 L479.17,277.29 L480.05,277.11 L480.92,276.92 L481.80,276.74 L482.68,276.55 L483.55,276.37 L484.43,276.18 L485.31,276.00 L486.18,275.81 L487.06,275.62 L487.93,275.44 L488.81,275.25 L489.69,275.06 L490.56,274.88 L491.44,274.69 L492.31,274.51 L493.19,274.32 L494.06,274.14 L494.94,273.96 L495.81,273.78 L496.68,273.60 L497.56,273.42 L498.43,273.25 L499.30,273.07 L500.18,272.90 L501.05,272.73 L501.92,272.57 L502.79,272.40 L503.66,272.24 L504.54,272.08 L505.41,271.93 L506.28,271.78 L507.15,271.63 L508.02,271.48 L508.89,271.34 L509.75,271.20 L510.62,271.07 L511.49,270.94 L512.36,270.81 L513.22,270.69 L514.09,270.57 L514.96,270.46 L515.82,270.35 L516.69,270.25 L517.55,270.15 L518.42,270.06 L519.28,269.97 L520.14,269.89 L521.00,269.82 L521.86,269.75 L522.73,269.68 L523.59,269.62 L524.45,269.57 L525.31,269.53 L526.16,269.49 L527.02,269.46 L527.88,269.43 L528.74,269.42 L529.59,269.41 L530.45,269.40 L531.30,269.41 L532.16,269.42 L533.01,269.44 L533.86,269.47 L534.71,269.50 L535.56,269.55 L536.41,269.60 L537.26,269.66 L538.11,269.73 L538.96,269.81 L539.81,269.90 L540.65,269.99 L541.50,270.10 L542.34,270.22 L543.19,270.34 L544.03,270.48 L544.87,270.62 L545.71,270.78 L546.55,270.94 L547.39,271.12 L548.23,271.30 L549.07,271.49 L549.90,271.70 L550.74,271.91 L551.57,272.13 L552.40,272.36 L553.23,272.60 L554.06,272.85 L554.89,273.11 L555.72,273.37 L556.54,273.65 L557.37,273.93 L558.19,274.22 L559.01,274.52 L559.83,274.83 L560.64,275.14 L561.46,275.47 L562.27,275.80 L563.08,276.14 L563.89,276.49 L564.70,276.84 L565.51,277.21 L566.31,277.58 L567.11,277.95 L567.91,278.34 L568.71,278.73 L569.51,279.13 L570.30,279.54 L571.09,279.95 L571.88,280.37 L572.66,280.79 L573.45,281.23 L574.23,281.67 L575.01,282.11 L575.78,282.56 L576.56,283.02 L577.33,283.48 L578.10,283.95 L578.86,284.43 L579.62,284.91 L580.38,285.40 L581.14,285.89 L581.89,286.39 L582.65,286.89 L583.39,287.40 L584.14,287.92 L584.88,288.44 L585.62,288.96 L586.36,289.49 L587.09,290.02 L587.82,290.56 L588.54,291.11 L589.26,291.65 L589.98,292.21 L590.70,292.76 L591.41,293.32 L592.12,293.89 L592.82,294.46 L593.53,295.03 L594.22,295.61 L594.92,296.19 L595.61,296.77 L596.29,297.36 L596.98,297.95 L597.65,298.54 L598.33,299.14 L599.00,299.74 L599.67,300.34 L600.33,300.95 L600.99,301.56 L601.64,302.17 L602.29,302.78 L602.94,303.40 L603.59,304.01 L604.23,304.63 L604.88,305.25 L605.52,305.86 L606.15,306.48 L606.79,307.09 L607.43,307.71 L608.07,308.32 L608.70,308.93 L609.34,309.54 L609.98,310.15 L610.61,310.75 L611.25,311.35 L611.89,311.95 L612.53,312.54 L613.18,313.12 L613.82,313.71 L614.47,314.28 L615.12,314.86 L615.78,315.42 L616.43,315.98 L617.10,316.53 L617.76,317.08 L618.43,317.61 L619.11,318.14 L619.79,318.66 L620.47,319.18 L621.17,319.68 L621.86,320.17 L622.57,320.66 L623.28,321.13 L623.99,321.59 L624.72,322.04 L625.45,322.48 L626.19,322.91 L626.94,323.33 L627.70,323.73 L628.46,324.13 L629.23,324.50 L630.02,324.87 L630.81,325.22 L631.61,325.56 L632.42,325.88 L633.24,326.18 L634.07,326.47 L634.90,326.75 L635.75,327.01 L636.59,327.25 L637.44,327.47 L638.30,327.68 L639.16,327.87 L640.03,328.04 L640.89,328.20 L641.77,328.33 L642.64,328.44 L643.51,328.54 L644.39,328.62 L645.27,328.67 L646.14,328.70 L647.02,328.72 L647.89,328.71 L648.77,328.68 L649.64,328.63 L650.51,328.56 L651.38,328.47 L652.25,328.36 L653.11,328.23 L653.98,328.09 L654.84,327.93 L655.70,327.74 L656.56,327.55 L657.41,327.33 L658.26,327.10 L659.11,326.86 L659.95,326.59 L660.79,326.32 L661.63,326.03 L662.46,325.72 L663.29,325.40 L664.12,325.07 L664.94,324.73 L665.76,324.37 L666.57,324.00 L667.38,323.62 L668.18,323.23 L668.98,322.83 L669.77,322.41 L670.55,321.99 L671.33,321.56 L672.11,321.12 L672.88,320.67 L673.64,320.21 L674.40,319.75 L675.15,319.27 L675.89,318.79 L676.63,318.31 L677.36,317.82 L678.09,317.32 L678.82,316.82 L679.54,316.31 L680.26,315.80 L680.97,315.28 L681.68,314.76 L682.39,314.24 L683.10,313.72 L683.81,313.19 L684.51,312.66 L685.22,312.13 L685.92,311.60 L686.63,311.07 L687.33,310.54 L688.04,310.01 L688.75,309.48 L689.46,308.95 L690.17,308.42 L690.88,307.90 L691.60,307.37 L692.32,306.85 L693.05,306.34 L693.78,305.82 L694.51,305.31 L695.25,304.81 L695.98,304.30 L696.73,303.80 L697.47,303.31 L698.22,302.82 L698.97,302.33 L699.72,301.85 L700.48,301.38 L701.24,300.91 L702.00,300.45 L702.77,299.99 L703.54,299.54 L704.31,299.09 L705.08,298.65 L705.86,298.22 L706.64,297.79 L707.42,297.37 L708.21,296.96 L709.00,296.56 L709.79,296.16 L710.58,295.77 L711.38,295.39 L712.18,295.02 L712.98,294.66 L713.78,294.31 L714.59,293.96 L715.40,293.63 L716.21,293.30 L717.02,292.98 L717.84,292.68 L718.65,292.38 L719.47,292.09 L720.30,291.82 L721.12,291.55 L721.95,291.30 L722.77,291.06 L723.61,290.82 L724.44,290.60 L725.27,290.39 L726.11,290.18 L726.95,289.99 L727.79,289.81 L728.63,289.63 L729.48,289.46 L730.32,289.31 L731.17,289.16 L732.02,289.02 L732.87,288.88 L733.72,288.76 L734.58,288.64 L735.44,288.54 L736.29,288.43 L737.15,288.34 L738.01,288.25 L738.88,288.17 L739.74,288.10 L740.61,288.03 L741.47,287.97 L742.34,287.92 L743.21,287.87 L744.08,287.83 L744.95,287.79 L745.83,287.76 L746.70,287.74 L747.58,287.72 L748.45,287.70 L749.33,287.69 L750.21,287.69 L751.09,287.69 L751.97,287.69 L752.85,287.70 L753.74,287.71 L754.62,287.73 L755.51,287.75 L756.39,287.77 L757.28,287.80 L758.16,287.83 L759.05,287.86 L759.94,287.90 L760.83,287.94 L761.72,287.98 L762.61,288.02 L763.50,288.07 L764.39,288.12 L765.29,288.17 L766.18,288.23 L767.07,288.28 L767.96,288.34 L768.86,288.40 L769.75,288.46 L770.65,288.52 L771.54,288.58 L772.44,288.64 L773.33,288.70 L774.23,288.77 L775.12,288.83 L776.02,288.90 L776.91,288.96 L777.81,289.02 L778.70,289.09 L779.60,289.15 L780.49,289.21 L781.39,289.28 L782.29,289.34 L783.18,289.40 L784.08,289.45 L784.97,289.51 L785.87,289.57 L786.76,289.62 L787.65,289.67 L788.55,289.72 L789.44,289.77 L790.33,289.82 L791.23,289.87 L792.12,289.92 L793.01,289.96 L793.90,290.01 L794.79,290.05 L795.68,290.09 L796.57,290.13 L797.46,290.17 L798.34,290.21 L799.23,290.24 L800.12,290.28 L801.00,290.31 L801.89,290.35 L802.77,290.38 L803.65,290.41 L804.54,290.44 L805.42,290.47 L806.30,290.50 L807.17,290.53 L808.05,290.56 L808.93,290.59 L809.80,290.61 L810.68,290.64 L811.55,290.66 L812.42,290.69 L813.29,290.71 L814.16,290.73 L815.03,290.76 L815.90,290.78 L816.76,290.80 L817.63,290.82 L818.49,290.84 L819.35,290.86 L820.21,290.88 L821.07,290.90 L821.92,290.92 L822.78,290.94 L823.63,290.95 L824.48,290.97 L825.33,290.99 L826.18,291.00 L827.02,291.02 L827.85,291.04" stroke="#9400d3" stroke-width="1.7" stroke-dasharray="1.509,4.527,7.545,4.527,1.509,4.527" stroke-dashoffset="-0.4"/>
</g>
<g stroke="#000" stroke-width="1.4" fill="none">
<rect x="65.8" y="8.25" width="762.0500000000001" height="566.25"/>
<path d="M65.8,556.80h6.5M827.85,556.80h-6.5M65.8,539.11h6.5M827.85,539.11h-6.5M65.8,521.41h6.5M827.85,521.41h-6.5M65.8,503.72h13M827.85,503.72h-13M65.8,486.02h6.5M827.85,486.02h-6.5M65.8,468.33h6.5M827.85,468.33h-6.5M65.8,450.63h6.5M827.85,450.63h-6.5M65.8,432.94h13M827.85,432.94h-13M65.8,415.24h6.5M827.85,415.24h-6.5M65.8,397.55h6.5M827.85,397.55h-6.5M65.8,379.85h6.5M827.85,379.85h-6.5M65.8,362.16h13M827.85,362.16h-13M65.8,344.46h6.5M827.85,344.46h-6.5M65.8,326.77h6.5M827.85,326.77h-6.5M65.8,309.07h6.5M827.85,309.07h-6.5M65.8,291.38h13M827.85,291.38h-13M65.8,273.68h6.5M827.85,273.68h-6.5M65.8,255.98h6.5M827.85,255.98h-6.5M65.8,238.29h6.5M827.85,238.29h-6.5M65.8,220.59h13M827.85,220.59h-13M65.8,202.90h6.5M827.85,202.90h-6.5M65.8,185.20h6.5M827.85,185.20h-6.5M65.8,167.51h6.5M827.85,167.51h-6.5M65.8,149.81h13M827.85,149.81h-13M65.8,132.12h6.5M827.85,132.12h-6.5M65.8,114.42h6.5M827.85,114.42h-6.5M65.8,96.73h6.5M827.85,96.73h-6.5M65.8,79.03h13M827.85,79.03h-13M65.8,61.34h6.5M827.85,61.34h-6.5M65.8,43.64h6.5M827.85,43.64h-6.5M65.8,25.95h6.5M827.85,25.95h-6.5M158.41,574.5v-6.5M158.41,8.25v6.5M212.58,574.5v-6.5M212.58,8.25v6.5M251.01,574.5v-6.5M251.01,8.25v6.5M280.83,574.5v-6.5M280.83,8.25v6.5M305.19,574.5v-6.5M305.19,8.25v6.5M325.78,574.5v-6.5M325.78,8.25v6.5M343.62,574.5v-6.5M343.62,8.25v6.5M359.36,574.5v-6.5M359.36,8.25v6.5M373.44,574.5v-13M373.44,8.25v13M466.04,574.5v-6.5M466.04,8.25v6.5M520.21,574.5v-6.5M520.21,8.25v6.5M558.65,574.5v-6.5M558.65,8.25v6.5M588.46,574.5v-6.5M588.46,8.25v6.5M612.82,574.5v-6.5M612.82,8.25v6.5M633.42,574.5v-6.5M633.42,8.25v6.5M651.26,574.5v-6.5M651.26,8.25v6.5M666.99,574.5v-6.5M666.99,8.25v6.5M681.07,574.5v-13M681.07,8.25v13M773.68,574.5v-6.5M773.68,8.25v6.5" stroke-width="1.2"/>
</g>
<path d="M126.0,432.3H206.0" stroke="#000" stroke-width="1.7" fill="none" stroke-dasharray="1.509,4.526999999999999,10.562999999999999,4.526999999999999"/>
<path d="M126.0,457.1H206.0" stroke="#000" stroke-width="1.7" fill="none"/>
<path d="M126.0,478.1H206.0" stroke="#0000ff" stroke-width="1.7" fill="none" stroke-dasharray="7.545,4.526999999999999"/>
<path d="M126.0,499.3H206.0" stroke="#ff0000" stroke-width="1.7" fill="none" stroke-dasharray="1.509,4.526999999999999"/>
<path d="M126.0,521.9H206.0" stroke="#9400d3" stroke-width="1.7" fill="none" stroke-dasharray="1.509,4.526999999999999,7.545,4.526999999999999,1.509,4.526999999999999"/>
</svg>
<div id="txt" style="position:absolute;left:0;top:0;width:830px;height:613px;will-change:transform">
<svg width="830" height="613" viewBox="0 0 830 613" style="position:absolute;left:0;top:0">
<text x="59.5" y="580.80" font-size="18.0" text-anchor="end">-8</text>
<text x="59.5" y="510.02" font-size="18.0" text-anchor="end">-6</text>
<text x="59.5" y="439.24" font-size="18.0" text-anchor="end">-4</text>
<text x="59.5" y="368.46" font-size="18.0" text-anchor="end">-2</text>
<text x="59.5" y="297.68" font-size="18.0" text-anchor="end">0</text>
<text x="59.5" y="226.89" font-size="18.0" text-anchor="end">2</text>
<text x="59.5" y="156.11" font-size="18.0" text-anchor="end">4</text>
<text x="59.5" y="85.33" font-size="18.0" text-anchor="end">6</text>
<text x="59.5" y="14.55" font-size="18.0" text-anchor="end">8</text>
<text x="66.40" y="594.7" font-size="18.0" text-anchor="middle">0.1</text>
<text x="374.04" y="594.7" font-size="18.0" text-anchor="middle">1</text>
<text x="681.67" y="594.7" font-size="18.0" text-anchor="middle">10</text>
<text x="447.0" y="610.8" font-size="22" text-anchor="middle" class="i">x</text>
<text x="122.8" y="69.0" font-size="20.3"><tspan class="i">kT</tspan><tspan font-size="14.21" dy="8">e</tspan><tspan dy="-8"> = 20 keV</tspan></text>
<text x="219.4" y="435.4" font-size="20.55"><tspan class="i">Y</tspan><tspan font-size="14.38" dy="8">0</tspan></text>
<text x="219.4" y="464.3" font-size="20.55"><tspan class="i">l</tspan> = 1</text>
<text x="219.4" y="486.1" font-size="20.55"><tspan class="i">l</tspan> = 2</text>
<text x="219.4" y="506.4" font-size="20.55"><tspan class="i">l</tspan> = 3</text>
<text x="219.4" y="527.4" font-size="20.55"><tspan class="i">l</tspan> = 4 (times 10)</text>
<g transform="translate(16.5,356.6) rotate(-90)">
<text x="-0.3" y="0" font-size="22.00">&#916;</text>
<text x="12.0" y="0" font-size="22.00">I</text>
<text x="21.0" y="8.8" font-size="15.40" class="i">l</text>
<text x="43.6" y="0" font-size="22.00" class="i">[</text>
<text x="52.0" y="0" font-size="22.00" class="i">y</text>
<text x="67.8" y="0" font-size="23.32" stroke="#000" stroke-width="0.4">&#920;</text>
<text x="84.6" y="8.8" font-size="15.40" class="i">&#947;</text>
<text x="91.5" y="8.8" font-size="15.40" class="i">,</text>
<text x="96.0" y="8.8" font-size="15.40" class="i">l</text>
<text x="104.6" y="0" font-size="22.00" class="i">S</text>
<text x="116.4" y="8.8" font-size="15.40">0</text>
<text x="123.6" y="0" font-size="22.00">]</text>
<path d="M28.9,0.2L39.6,-14.2" stroke="#000" stroke-width="1.3" fill="none"/>
</g>
</svg>
</div></body></html>
